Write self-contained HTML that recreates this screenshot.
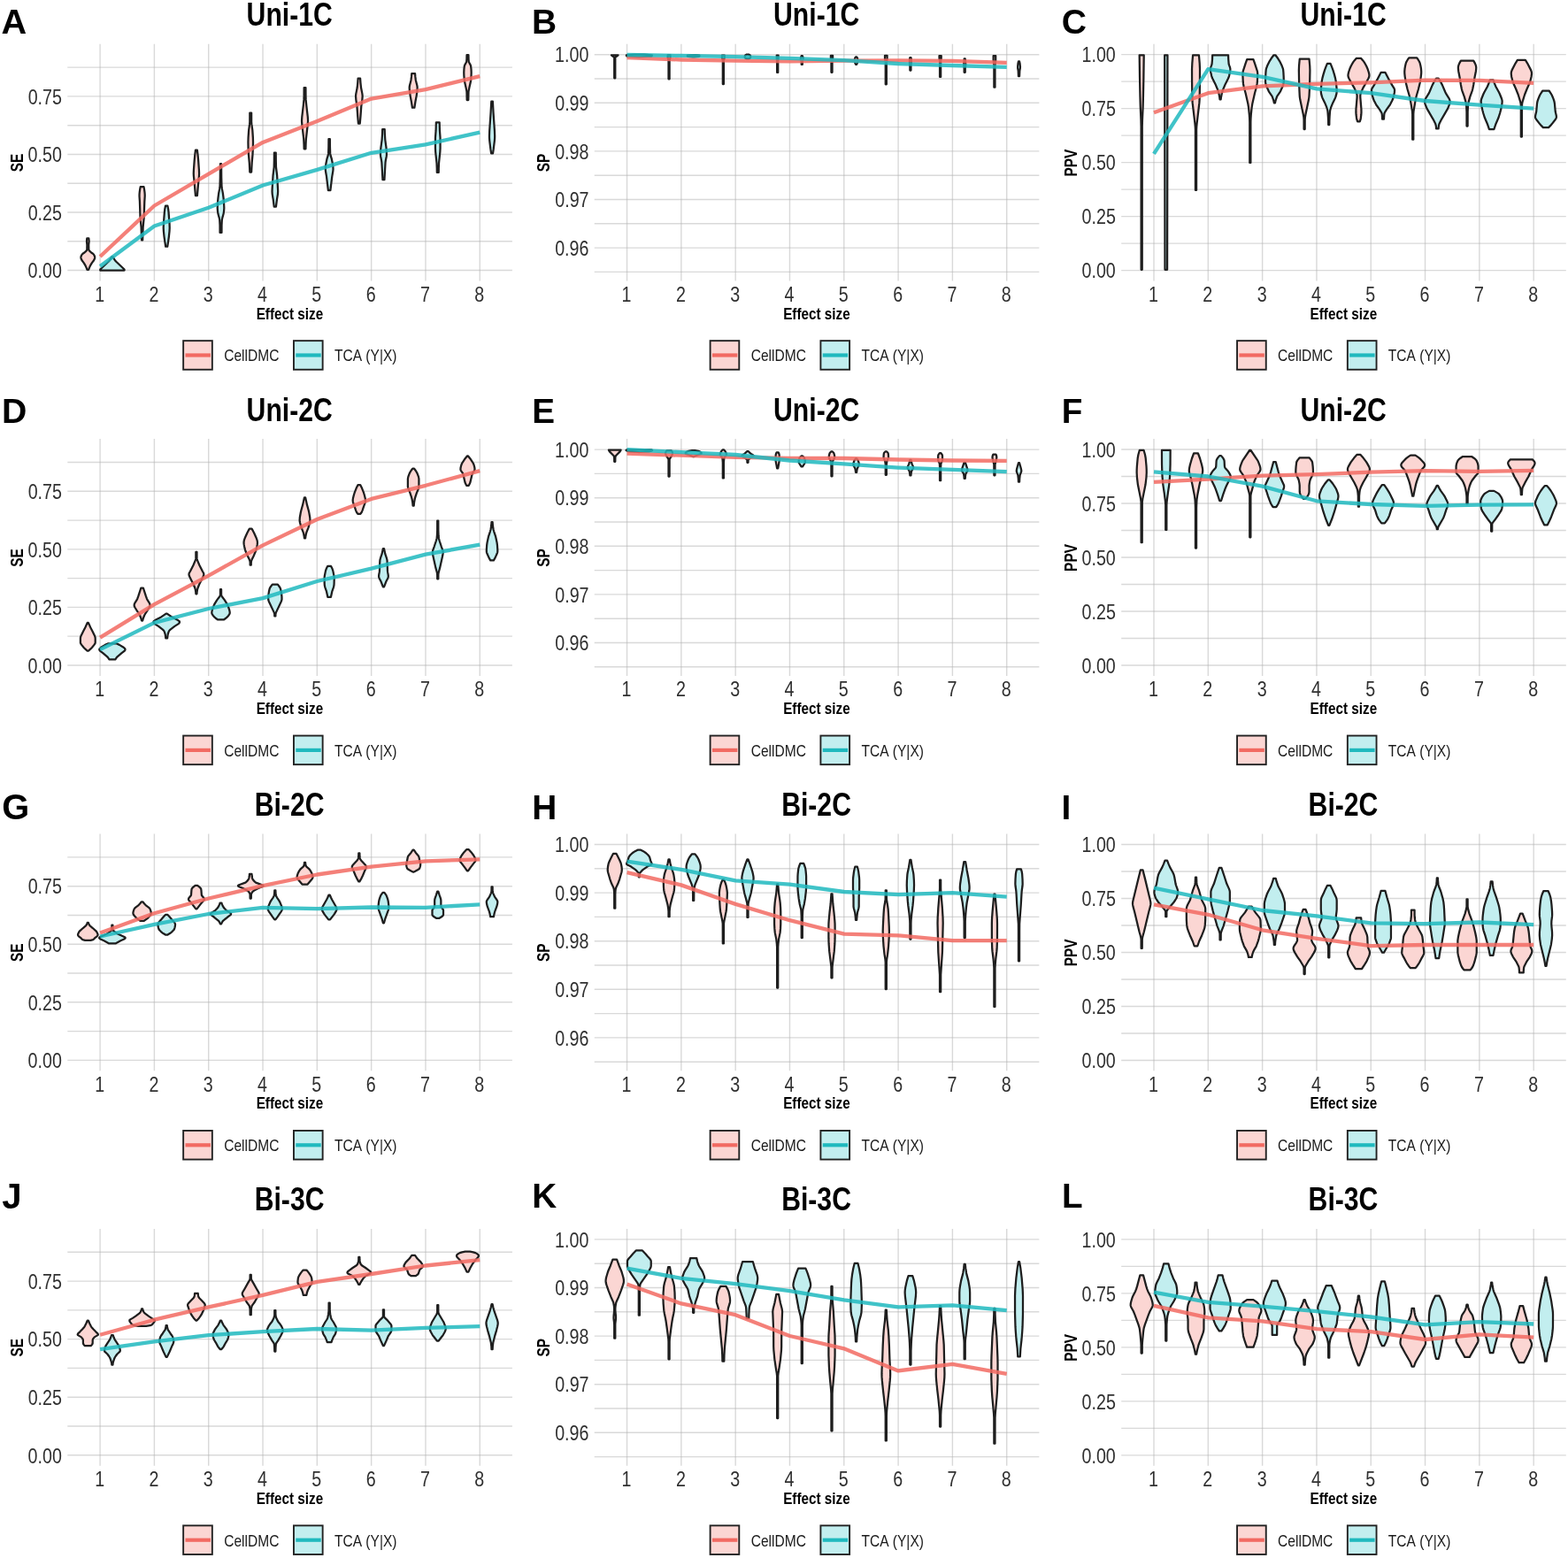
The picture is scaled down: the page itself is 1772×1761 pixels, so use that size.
<!DOCTYPE html><html><head><meta charset="utf-8"><title>Violin plots</title><style>html,body{margin:0;padding:0;background:#fff;overflow:hidden;}svg{display:block;}</style></head><body><svg width="1772" height="1761" viewBox="0 0 1772 1761" font-family="Liberation Sans, Arial, sans-serif" style="font-kerning:none"><rect width="100%" height="100%" fill="#fff"/><path d="M76.3 272.78H578.9M76.3 207.23H578.9M76.3 141.68H578.9M76.3 76.13H578.9M76.3 305.55H578.9M76.3 240H578.9M76.3 174.45H578.9M76.3 108.9H578.9" stroke="#B3B3B3" stroke-opacity="0.5" stroke-width="1.4" fill="none"/>
<path d="M113.1 49.7V317.5M174.41 49.7V317.5M235.72 49.7V317.5M297.03 49.7V317.5M358.34 49.7V317.5M419.65 49.7V317.5M480.96 49.7V317.5M542.27 49.7V317.5" stroke="#B3B3B3" stroke-opacity="0.5" stroke-width="1.4" fill="none"/>
<text transform="translate(31.61 314.3) scale(0.81 1)" font-size="24.27" fill="#303030">0.00</text>
<text transform="translate(31.66 248.75) scale(0.81 1)" font-size="24.27" fill="#303030">0.25</text>
<text transform="translate(31.61 183.2) scale(0.81 1)" font-size="24.27" fill="#303030">0.50</text>
<text transform="translate(31.66 117.65) scale(0.81 1)" font-size="24.27" fill="#303030">0.75</text>
<text transform="translate(107.13 340.9) scale(0.81 1)" font-size="24.27" fill="#303030">1</text>
<text transform="translate(168.44 340.9) scale(0.81 1)" font-size="24.27" fill="#303030">2</text>
<text transform="translate(229.75 340.9) scale(0.81 1)" font-size="24.27" fill="#303030">3</text>
<text transform="translate(291.06 340.9) scale(0.81 1)" font-size="24.27" fill="#303030">4</text>
<text transform="translate(352.37 340.9) scale(0.81 1)" font-size="24.27" fill="#303030">5</text>
<text transform="translate(413.68 340.9) scale(0.81 1)" font-size="24.27" fill="#303030">6</text>
<text transform="translate(474.99 340.9) scale(0.81 1)" font-size="24.27" fill="#303030">7</text>
<text transform="translate(536.3 340.9) scale(0.81 1)" font-size="24.27" fill="#303030">8</text>
<text transform="translate(289.68 360.5) scale(0.832 1)" font-size="18.38" font-weight="bold" fill="#000">Effect size</text>
<text transform="translate(25.91 194.25) rotate(-90) scale(0.785 1)" font-size="19.63" font-weight="bold" fill="#000">SE</text>
<text transform="translate(278.59 29.1) scale(0.83 1)" font-size="36.36" font-weight="bold" fill="#000">Uni-1C</text>
<rect x="207.15" y="385.15" width="32.7" height="32.6" fill="#FBD6D3" stroke="#222" stroke-width="1.9"/>
<path d="M209.5 401.5H237.9" stroke="#F26A62" stroke-width="4.2"/>
<text transform="translate(253.21 408.3) scale(0.866 1)" font-size="17.97" fill="#1A1A1A">CellDMC</text>
<rect x="331.95" y="385.15" width="32.7" height="32.6" fill="#C2EEEF" stroke="#222" stroke-width="1.9"/>
<path d="M334.3 401.5H362.7" stroke="#1FB9BE" stroke-width="4.2"/>
<text transform="translate(377.95 408.3) scale(0.866 1)" font-size="17.97" fill="#1A1A1A">TCA (Y|X)</text>
<text transform="translate(1.51 38.4) scale(1 1)" font-size="39.68" font-weight="bold" fill="#000">A</text>
<path d="M100.30 269.30 100.50 270.81 100.60 273.09 100.20 276.87 100.32 282.18 100.67 282.93 101.93 284.45 102.85 285.21 105.05 286.72 105.85 287.48 106.68 288.99 106.98 289.75 107.16 290.51 107.19 291.27 107.04 292.02 106.76 292.78 106.05 294.30 103.72 297.33 102.40 299.60 100.97 302.63 100.10 304.90 98.50 304.90 97.63 302.63 96.20 299.60 94.88 297.33 92.55 294.30 91.84 292.78 91.56 292.02 91.41 291.27 91.44 290.51 91.62 289.75 91.92 288.99 92.75 287.48 93.55 286.72 95.75 285.21 96.67 284.45 97.93 282.93 98.28 282.18 98.40 276.87 98.00 273.09 98.10 270.81 98.30 269.30ZM162.51 211.20 162.96 213.46 163.47 217.22 163.67 219.48 163.70 221.74 163.31 227.75 162.71 245.81 161.61 257.10 161.16 271.40 160.06 271.40 159.61 257.10 158.51 245.81 157.91 227.75 157.52 221.74 157.55 219.48 157.75 217.22 158.26 213.46 158.71 211.20ZM222.88 169.55 223.61 175.61 224.11 180.92 224.92 192.29 225.07 196.08 224.92 199.12 224.43 203.66 222.88 221.10 220.96 221.10 219.41 203.66 218.92 199.12 218.77 196.08 218.92 192.29 219.73 180.92 220.23 175.61 220.96 169.55ZM284.13 127.60 284.16 138.12 284.38 140.38 285.32 147.14 285.88 155.41 286.03 160.67 285.91 166.69 285.50 174.96 284.68 183.98 284.13 194.50 282.33 194.50 281.78 183.98 280.96 174.96 280.55 166.69 280.43 160.67 280.58 155.41 281.14 147.14 282.08 140.38 282.30 138.12 282.33 127.60ZM345.44 99.10 345.51 108.88 345.64 112.64 346.31 119.41 347.79 132.20 348.04 135.96 347.98 138.21 347.79 140.47 345.88 157.02 345.57 163.03 345.44 168.30 343.64 168.30 343.51 163.03 343.20 157.02 341.29 140.47 341.10 138.21 341.04 135.96 341.29 132.20 342.77 119.41 343.44 112.64 343.57 108.88 343.64 99.10ZM407.10 88.55 407.40 93.06 408.02 99.08 409.38 105.85 409.58 107.36 409.65 108.86 409.38 112.62 408.29 120.14 407.47 131.43 406.75 139.70 404.95 139.70 404.23 131.43 403.41 120.14 402.32 112.62 402.05 108.86 402.12 107.36 402.32 105.85 403.68 99.08 404.30 93.06 404.60 88.55ZM469.06 83.10 469.37 86.88 469.85 90.67 471.38 96.72 471.61 98.24 471.65 99.75 471.43 102.78 470.71 108.08 469.45 114.89 468.36 121.70 465.96 121.70 464.87 114.89 463.61 108.08 462.89 102.78 462.67 99.75 462.71 98.24 462.94 96.72 464.47 90.67 464.95 86.88 465.26 83.10ZM529.42 62.20 529.53 66.76 529.77 69.80 530.05 70.56 531.76 73.60 532.05 74.36 532.51 78.15 532.67 81.95 532.55 85.75 532.11 91.07 531.70 93.35 530.43 98.67 529.67 102.46 529.47 103.98 529.27 113.10 527.67 113.10 527.47 103.98 527.27 102.46 526.51 98.67 525.24 93.35 524.83 91.07 524.39 85.75 524.27 81.95 524.43 78.15 524.89 74.36 525.18 73.60 526.89 70.56 527.17 69.80 527.41 66.76 527.52 62.20Z" fill="#FBD6D3" stroke="#1E1E1E" stroke-width="2.25" stroke-linejoin="round"/>
<path d="M127.70 290.40 128.42 291.91 129.91 294.18 131.30 295.69 140.01 303.99 140.53 304.75 140.60 305.50 113.20 305.50 113.27 304.75 113.79 303.99 122.50 295.69 123.89 294.18 125.38 291.91 126.10 290.40ZM189.41 232.60 190.15 236.38 190.57 240.16 191.56 253.00 191.71 257.54 191.51 261.32 190.90 267.36 190.06 273.41 189.21 278.70 187.21 278.70 186.36 273.41 185.52 267.36 184.91 261.32 184.71 257.54 184.86 253.00 185.85 240.16 186.27 236.38 187.01 232.60ZM250.07 185.20 250.22 201.05 250.49 210.11 250.85 213.13 251.87 218.41 252.55 223.70 252.98 228.23 253.32 235.02 253.12 238.04 252.57 241.81 251.27 246.34 250.83 248.61 250.51 254.65 250.48 262.95 248.56 262.95 248.53 254.65 248.21 248.61 247.77 246.34 246.47 241.81 245.92 238.04 245.72 235.02 246.06 228.23 246.49 223.70 247.17 218.41 248.19 213.13 248.55 210.11 248.82 201.05 248.97 185.20ZM311.73 172.60 311.80 181.65 311.98 189.20 313.12 198.25 314.02 213.33 314.13 216.35 313.95 219.37 312.96 225.40 311.93 233.70 309.73 233.70 308.70 225.40 307.71 219.37 307.53 216.35 307.64 213.33 308.54 198.25 309.68 189.20 309.86 181.65 309.93 172.60ZM372.84 157.00 372.93 166.07 373.17 173.63 373.64 175.90 374.83 179.68 375.75 184.21 376.36 187.99 376.54 191.01 376.35 193.28 375.30 199.33 373.39 215.20 370.89 215.20 368.98 199.33 367.93 193.28 367.74 191.01 367.92 187.99 368.53 184.21 369.45 179.68 370.64 175.90 371.11 173.63 371.35 166.07 371.44 157.00ZM434.70 146.10 434.87 151.36 435.30 158.12 436.52 167.14 436.86 171.64 436.95 174.65 436.74 176.90 435.83 181.41 435.53 183.67 434.45 203.20 432.45 203.20 431.37 183.67 431.07 181.41 430.16 176.90 429.95 174.65 430.04 171.64 430.38 167.14 431.60 158.12 432.03 151.36 432.20 146.10ZM496.66 138.40 496.91 147.44 497.54 155.73 497.56 167.78 497.35 171.55 496.01 184.35 495.77 190.38 495.71 194.90 493.81 194.90 493.75 190.38 493.51 184.35 492.17 171.55 491.96 167.78 491.98 155.73 492.61 147.44 492.86 138.40ZM556.87 114.70 557.52 126.74 558.95 147.81 559.17 153.83 559.13 156.09 558.88 159.10 557.79 168.13 557.02 173.40 555.12 173.40 554.35 168.13 553.26 159.10 553.01 156.09 552.97 153.83 553.19 147.81 554.62 126.74 555.27 114.70Z" fill="#C2EEEF" stroke="#1E1E1E" stroke-width="2.25" stroke-linejoin="round"/>
<path d="M113.10 290.00 174.41 232.50 235.72 196.70 297.03 160.90 358.34 137.00 419.65 111.60 480.96 101.20 542.27 86.10" fill="none" stroke="#F26A62" stroke-opacity="0.85" stroke-width="4.3" stroke-linejoin="round"/>
<path d="M113.10 300.90 174.41 255.50 235.72 234.80 297.03 209.50 358.34 191.90 419.65 172.80 480.96 163.30 542.27 149.70" fill="none" stroke="#1FB9BE" stroke-opacity="0.85" stroke-width="4.3" stroke-linejoin="round"/>
<path d="M671.75 307.4H1174.35M671.75 252.8H1174.35M671.75 198.2H1174.35M671.75 143.6H1174.35M671.75 89H1174.35M671.75 280.1H1174.35M671.75 225.5H1174.35M671.75 170.9H1174.35M671.75 116.3H1174.35M671.75 61.7H1174.35" stroke="#B3B3B3" stroke-opacity="0.5" stroke-width="1.4" fill="none"/>
<path d="M708.55 49.7V317.5M769.86 49.7V317.5M831.17 49.7V317.5M892.48 49.7V317.5M953.79 49.7V317.5M1015.1 49.7V317.5M1076.41 49.7V317.5M1137.72 49.7V317.5" stroke="#B3B3B3" stroke-opacity="0.5" stroke-width="1.4" fill="none"/>
<text transform="translate(627.15 288.85) scale(0.81 1)" font-size="24.27" fill="#303030">0.96</text>
<text transform="translate(627.28 234.25) scale(0.81 1)" font-size="24.27" fill="#303030">0.97</text>
<text transform="translate(627.14 179.65) scale(0.81 1)" font-size="24.27" fill="#303030">0.98</text>
<text transform="translate(627.22 125.05) scale(0.81 1)" font-size="24.27" fill="#303030">0.99</text>
<text transform="translate(627.06 70.45) scale(0.81 1)" font-size="24.27" fill="#303030">1.00</text>
<text transform="translate(702.58 340.9) scale(0.81 1)" font-size="24.27" fill="#303030">1</text>
<text transform="translate(763.89 340.9) scale(0.81 1)" font-size="24.27" fill="#303030">2</text>
<text transform="translate(825.2 340.9) scale(0.81 1)" font-size="24.27" fill="#303030">3</text>
<text transform="translate(886.51 340.9) scale(0.81 1)" font-size="24.27" fill="#303030">4</text>
<text transform="translate(947.82 340.9) scale(0.81 1)" font-size="24.27" fill="#303030">5</text>
<text transform="translate(1009.13 340.9) scale(0.81 1)" font-size="24.27" fill="#303030">6</text>
<text transform="translate(1070.44 340.9) scale(0.81 1)" font-size="24.27" fill="#303030">7</text>
<text transform="translate(1131.75 340.9) scale(0.81 1)" font-size="24.27" fill="#303030">8</text>
<text transform="translate(885.13 360.5) scale(0.832 1)" font-size="18.38" font-weight="bold" fill="#000">Effect size</text>
<text transform="translate(621.36 194.29) rotate(-90) scale(0.785 1)" font-size="19.63" font-weight="bold" fill="#000">SP</text>
<text transform="translate(874.04 29.1) scale(0.83 1)" font-size="36.36" font-weight="bold" fill="#000">Uni-1C</text>
<rect x="802.6" y="385.15" width="32.7" height="32.6" fill="#FBD6D3" stroke="#222" stroke-width="1.9"/>
<path d="M804.95 401.5H833.35" stroke="#F26A62" stroke-width="4.2"/>
<text transform="translate(848.66 408.3) scale(0.866 1)" font-size="17.97" fill="#1A1A1A">CellDMC</text>
<rect x="927.4" y="385.15" width="32.7" height="32.6" fill="#C2EEEF" stroke="#222" stroke-width="1.9"/>
<path d="M929.75 401.5H958.15" stroke="#1FB9BE" stroke-width="4.2"/>
<text transform="translate(973.4 408.3) scale(0.866 1)" font-size="17.97" fill="#1A1A1A">TCA (Y|X)</text>
<text transform="translate(600.89 38.1) scale(1 1)" font-size="38.95" font-weight="bold" fill="#000">B</text>
<path d="M698.56 62.30 697.76 63.07 695.55 64.60 695.30 65.37 695.30 88.37 694.20 88.37 694.20 65.37 693.95 64.60 691.74 63.07 690.94 62.30ZM757.46 62.02 757.46 65.06 757.37 65.82 756.67 68.09 756.61 68.85 756.61 89.37 755.51 89.37 755.51 68.85 755.45 68.09 754.75 65.82 754.66 65.06 754.66 62.02ZM818.77 62.59 818.72 65.61 818.02 67.88 817.92 68.64 817.92 95.11 816.82 95.11 816.82 68.64 816.72 67.88 816.02 65.61 815.97 62.59ZM879.60 62.59 879.57 66.45 879.23 70.32 879.23 81.92 878.13 81.92 878.13 70.32 877.79 66.45 877.76 62.59ZM941.11 62.81 941.11 65.84 940.57 68.87 940.54 69.63 940.54 81.75 939.44 81.75 939.44 69.63 939.41 68.87 938.87 65.84 938.87 62.81ZM1002.59 62.81 1002.58 66.58 1002.50 67.34 1001.99 69.60 1001.85 71.11 1001.85 95.25 1000.75 95.25 1000.75 71.11 1000.61 69.60 1000.10 67.34 1000.02 66.58 1000.01 62.81ZM1063.73 63.10 1063.70 66.17 1063.16 69.24 1063.16 86.89 1062.06 86.89 1062.06 69.24 1061.52 66.17 1061.49 63.10ZM1125.21 63.10 1125.20 68.39 1124.55 73.69 1124.47 75.20 1124.47 98.63 1123.37 98.63 1123.37 75.20 1123.29 73.69 1122.64 68.39 1122.63 63.10Z" fill="#FBD6D3" stroke="#1E1E1E" stroke-width="2.25" stroke-linejoin="round"/>
<path d="M727.92 61.59 736.75 62.29 736.75 63.00 736.02 63.71 722.90 64.42 721.80 64.42 708.68 63.71 707.95 63.00 707.95 62.29 716.78 61.59ZM786.02 62.02 790.35 62.62 790.51 63.22 790.11 63.83 784.21 64.43 783.11 64.43 777.21 63.83 776.81 63.22 776.97 62.62 781.30 62.02ZM846.05 61.59 847.67 62.39 848.13 63.20 848.13 64.82 847.60 65.63 845.73 66.44 844.21 66.44 842.34 65.63 841.81 64.82 841.81 63.20 842.27 62.39 843.89 61.59ZM906.83 63.02 907.39 64.54 907.66 66.06 907.66 66.81 906.84 69.85 906.83 72.89 905.73 72.89 905.72 69.85 904.90 66.81 904.90 66.06 905.17 64.54 905.73 63.02ZM968.14 64.28 969.06 65.85 969.23 66.64 969.36 68.22 969.22 69.80 968.77 71.37 968.14 72.95 967.04 72.95 966.41 71.37 965.96 69.80 965.82 68.22 965.95 66.64 966.12 65.85 967.04 64.28ZM1029.45 65.01 1029.75 66.54 1029.86 68.07 1029.85 71.13 1029.45 74.96 1029.45 79.55 1028.35 79.55 1028.35 74.96 1027.95 71.13 1027.94 68.07 1028.05 66.54 1028.35 65.01ZM1090.76 66.48 1091.32 72.59 1091.24 74.12 1090.77 77.17 1090.76 81.75 1089.66 81.75 1089.65 77.17 1089.18 74.12 1089.10 72.59 1089.66 66.48ZM1152.07 69.41 1152.56 71.70 1152.96 75.50 1152.89 77.02 1152.34 80.07 1152.07 86.16 1150.97 86.16 1150.70 80.07 1150.15 77.02 1150.08 75.50 1150.48 71.70 1150.97 69.41Z" fill="#C2EEEF" stroke="#1E1E1E" stroke-width="2.25" stroke-linejoin="round"/>
<path d="M708.55 65.20 769.86 67.50 831.17 68.60 892.48 69.30 953.79 68.70 1015.10 68.40 1076.41 68.90 1137.72 70.90" fill="none" stroke="#F26A62" stroke-opacity="0.85" stroke-width="4.3" stroke-linejoin="round"/>
<path d="M708.55 62.00 769.86 62.90 831.17 64.10 892.48 65.80 953.79 68.20 1015.10 72.00 1076.41 74.00 1137.72 75.90" fill="none" stroke="#1FB9BE" stroke-opacity="0.85" stroke-width="4.3" stroke-linejoin="round"/>
<path d="M1267.2 275.15H1769.8M1267.2 214.15H1769.8M1267.2 153.15H1769.8M1267.2 92.15H1769.8M1267.2 305.65H1769.8M1267.2 244.65H1769.8M1267.2 183.65H1769.8M1267.2 122.65H1769.8M1267.2 61.65H1769.8" stroke="#B3B3B3" stroke-opacity="0.5" stroke-width="1.4" fill="none"/>
<path d="M1304 49.7V317.5M1365.31 49.7V317.5M1426.62 49.7V317.5M1487.93 49.7V317.5M1549.24 49.7V317.5M1610.55 49.7V317.5M1671.86 49.7V317.5M1733.17 49.7V317.5" stroke="#B3B3B3" stroke-opacity="0.5" stroke-width="1.4" fill="none"/>
<text transform="translate(1222.51 314.4) scale(0.81 1)" font-size="24.27" fill="#303030">0.00</text>
<text transform="translate(1222.56 253.4) scale(0.81 1)" font-size="24.27" fill="#303030">0.25</text>
<text transform="translate(1222.51 192.4) scale(0.81 1)" font-size="24.27" fill="#303030">0.50</text>
<text transform="translate(1222.56 131.4) scale(0.81 1)" font-size="24.27" fill="#303030">0.75</text>
<text transform="translate(1222.51 70.4) scale(0.81 1)" font-size="24.27" fill="#303030">1.00</text>
<text transform="translate(1298.03 340.9) scale(0.81 1)" font-size="24.27" fill="#303030">1</text>
<text transform="translate(1359.34 340.9) scale(0.81 1)" font-size="24.27" fill="#303030">2</text>
<text transform="translate(1420.65 340.9) scale(0.81 1)" font-size="24.27" fill="#303030">3</text>
<text transform="translate(1481.96 340.9) scale(0.81 1)" font-size="24.27" fill="#303030">4</text>
<text transform="translate(1543.27 340.9) scale(0.81 1)" font-size="24.27" fill="#303030">5</text>
<text transform="translate(1604.58 340.9) scale(0.81 1)" font-size="24.27" fill="#303030">6</text>
<text transform="translate(1665.89 340.9) scale(0.81 1)" font-size="24.27" fill="#303030">7</text>
<text transform="translate(1727.2 340.9) scale(0.81 1)" font-size="24.27" fill="#303030">8</text>
<text transform="translate(1480.58 360.5) scale(0.832 1)" font-size="18.38" font-weight="bold" fill="#000">Effect size</text>
<text transform="translate(1216.61 199.48) rotate(-90) scale(0.785 1)" font-size="19.63" font-weight="bold" fill="#000">PPV</text>
<text transform="translate(1469.49 29.1) scale(0.83 1)" font-size="36.36" font-weight="bold" fill="#000">Uni-1C</text>
<rect x="1398.05" y="385.15" width="32.7" height="32.6" fill="#FBD6D3" stroke="#222" stroke-width="1.9"/>
<path d="M1400.4 401.5H1428.8" stroke="#F26A62" stroke-width="4.2"/>
<text transform="translate(1444.11 408.3) scale(0.866 1)" font-size="17.97" fill="#1A1A1A">CellDMC</text>
<rect x="1522.85" y="385.15" width="32.7" height="32.6" fill="#C2EEEF" stroke="#222" stroke-width="1.9"/>
<path d="M1525.2 401.5H1553.6" stroke="#1FB9BE" stroke-width="4.2"/>
<text transform="translate(1568.85 408.3) scale(0.866 1)" font-size="17.97" fill="#1A1A1A">TCA (Y|X)</text>
<text transform="translate(1199.7 38.02) scale(1 1)" font-size="39.12" font-weight="bold" fill="#000">C</text>
<path d="M1292.73 62.27 1292.38 87.80 1291.93 109.58 1291.62 120.85 1290.95 135.87 1290.78 142.62 1290.75 304.83 1289.65 304.83 1289.62 142.62 1289.45 135.87 1288.78 120.85 1288.47 109.58 1288.02 87.80 1287.67 62.27ZM1354.94 62.27 1355.68 71.30 1355.99 78.07 1355.95 91.61 1355.75 106.65 1355.61 112.67 1355.35 116.43 1352.60 139.74 1352.25 143.51 1352.09 146.51 1352.06 214.96 1350.96 214.96 1350.93 146.51 1350.77 143.51 1350.42 139.74 1347.67 116.43 1347.41 112.67 1347.27 106.65 1347.07 91.61 1347.03 78.07 1347.34 71.30 1348.08 62.27ZM1416.42 67.04 1418.01 71.57 1420.94 80.62 1421.23 82.88 1421.19 85.90 1420.86 92.69 1420.60 94.95 1419.98 97.97 1417.97 105.51 1415.25 117.57 1414.53 122.10 1413.73 130.40 1413.49 134.17 1413.37 137.94 1413.37 183.94 1412.27 183.94 1412.27 137.94 1412.15 134.17 1411.91 130.40 1411.11 122.10 1410.39 117.57 1407.67 105.51 1405.66 97.97 1405.04 94.95 1404.78 92.69 1404.45 85.90 1404.41 82.88 1404.70 80.62 1407.63 71.57 1409.22 67.04ZM1479.52 66.73 1480.21 74.28 1480.41 79.58 1480.22 90.16 1479.86 101.49 1479.57 107.54 1479.39 109.81 1478.93 112.83 1475.42 129.46 1474.91 132.48 1474.70 135.51 1474.68 146.09 1473.58 146.09 1473.56 135.51 1473.35 132.48 1472.84 129.46 1469.33 112.83 1468.87 109.81 1468.69 107.54 1468.40 101.49 1468.04 90.16 1467.85 79.58 1468.05 74.28 1468.74 66.73ZM1538.15 65.93 1540.07 68.19 1541.75 70.45 1543.12 72.71 1544.31 74.97 1545.30 77.23 1546.82 81.74 1547.32 84.00 1547.41 85.51 1547.13 87.02 1546.52 88.52 1543.70 93.80 1540.58 99.07 1538.21 104.34 1537.47 106.60 1537.27 108.11 1537.32 110.37 1538.41 123.17 1538.49 126.94 1538.29 129.95 1537.81 133.72 1537.49 135.22 1536.73 137.48 1534.15 137.48 1533.39 135.22 1533.07 133.72 1532.59 129.95 1532.39 126.94 1532.47 123.17 1533.56 110.37 1533.61 108.11 1533.41 106.60 1532.67 104.34 1530.30 99.07 1527.18 93.80 1524.36 88.52 1523.75 87.02 1523.47 85.51 1523.56 84.00 1524.06 81.74 1525.58 77.23 1526.57 74.97 1527.76 72.71 1529.13 70.45 1530.81 68.19 1532.73 65.93ZM1601.24 65.45 1602.83 67.72 1603.75 69.23 1604.47 70.74 1604.72 71.50 1605.43 74.52 1605.96 77.55 1606.22 80.57 1606.19 82.84 1605.81 86.62 1604.71 93.42 1602.88 100.98 1600.91 107.78 1600.34 110.05 1599.14 116.10 1597.51 125.93 1597.30 128.95 1597.30 157.68 1596.20 157.68 1596.20 128.95 1595.99 125.93 1594.36 116.10 1593.16 110.05 1592.59 107.78 1590.62 100.98 1588.79 93.42 1587.69 86.62 1587.31 82.84 1587.28 80.57 1587.54 77.55 1588.07 74.52 1588.78 71.50 1589.03 70.74 1589.75 69.23 1590.67 67.72 1592.26 65.45ZM1665.23 68.63 1666.91 71.65 1667.82 73.91 1668.17 75.42 1668.24 76.18 1668.16 78.44 1667.86 80.70 1666.51 87.49 1665.23 95.79 1664.36 100.32 1663.73 102.58 1661.30 109.37 1659.84 114.66 1659.20 117.67 1658.91 120.69 1658.64 126.73 1658.61 142.57 1657.51 142.57 1657.48 126.73 1657.21 120.69 1656.92 117.67 1656.28 114.66 1654.82 109.37 1652.39 102.58 1651.76 100.32 1650.89 95.79 1649.61 87.49 1648.26 80.70 1647.96 78.44 1647.88 76.18 1647.95 75.42 1648.30 73.91 1649.21 71.65 1650.89 68.63ZM1723.86 67.84 1726.13 71.60 1730.06 79.14 1730.82 81.40 1730.94 82.15 1730.97 83.66 1730.57 86.68 1729.26 91.95 1728.42 94.21 1725.72 100.24 1723.04 107.02 1720.94 113.80 1720.36 116.07 1720.09 117.57 1719.94 119.83 1719.92 154.50 1718.82 154.50 1718.80 119.83 1718.65 117.57 1718.38 116.07 1717.80 113.80 1715.70 107.02 1713.02 100.24 1710.32 94.21 1709.48 91.95 1708.17 86.68 1707.77 83.66 1707.80 82.15 1707.92 81.40 1708.68 79.14 1712.61 71.60 1714.88 67.84Z" fill="#FBD6D3" stroke="#1E1E1E" stroke-width="2.25" stroke-linejoin="round"/>
<path d="M1319.44 62.27 1319.09 304.83 1316.51 304.83 1316.16 62.27ZM1388.06 62.27 1388.20 66.83 1388.64 72.14 1389.05 73.66 1389.92 75.93 1390.32 77.45 1390.35 78.97 1390.09 81.25 1389.03 85.80 1388.28 88.08 1387.58 89.60 1384.83 94.91 1382.90 99.46 1381.73 102.50 1381.04 104.78 1380.52 107.05 1379.95 110.09 1379.66 112.37 1378.56 112.37 1378.27 110.09 1377.70 107.05 1377.18 104.78 1376.49 102.50 1375.32 99.46 1373.39 94.91 1370.64 89.60 1369.94 88.08 1369.19 85.80 1368.13 81.25 1367.87 78.97 1367.90 77.45 1368.30 75.93 1369.17 73.66 1369.58 72.14 1370.02 66.83 1370.16 62.27ZM1441.35 62.27 1444.19 66.03 1446.08 69.03 1448.66 74.29 1449.79 77.29 1450.14 78.79 1450.41 81.80 1450.69 87.06 1450.79 92.31 1450.56 94.56 1450.14 96.07 1449.59 97.57 1447.20 102.83 1446.29 104.33 1443.74 108.08 1442.94 109.58 1441.64 113.34 1441.00 116.34 1439.84 116.34 1439.20 113.34 1437.90 109.58 1437.10 108.08 1434.55 104.33 1433.64 102.83 1431.25 97.57 1430.70 96.07 1430.28 94.56 1430.05 92.31 1430.15 87.06 1430.43 81.80 1430.70 78.79 1431.05 77.29 1432.18 74.29 1434.76 69.03 1436.65 66.03 1439.49 62.27ZM1503.55 71.82 1505.11 75.58 1506.48 79.34 1508.06 84.60 1509.04 88.36 1509.63 91.37 1510.18 95.88 1510.53 99.64 1510.68 103.40 1510.46 105.65 1509.47 109.41 1508.85 110.92 1506.29 116.18 1504.14 121.45 1503.24 124.45 1503.01 125.96 1502.56 131.97 1502.35 136.49 1502.28 141.00 1501.18 141.00 1501.11 136.49 1500.90 131.97 1500.45 125.96 1500.22 124.45 1499.32 121.45 1497.17 116.18 1494.61 110.92 1493.99 109.41 1493.00 105.65 1492.78 103.40 1492.93 99.64 1493.28 95.88 1493.83 91.37 1494.42 88.36 1495.40 84.60 1496.98 79.34 1498.35 75.58 1499.91 71.82ZM1565.40 81.83 1569.34 89.37 1573.16 96.16 1575.51 99.93 1576.03 101.44 1576.08 102.19 1575.90 104.45 1575.29 107.47 1574.28 111.24 1573.38 113.50 1571.04 118.03 1570.06 119.54 1567.26 123.31 1565.41 126.32 1564.65 127.83 1564.41 128.59 1564.22 130.10 1563.97 134.62 1562.11 134.62 1561.86 130.10 1561.67 128.59 1561.43 127.83 1560.67 126.32 1558.82 123.31 1556.02 119.54 1555.04 118.03 1552.70 113.50 1551.80 111.24 1550.79 107.47 1550.18 104.45 1550.00 102.19 1550.05 101.44 1550.57 99.93 1552.92 96.16 1556.74 89.37 1560.68 81.83ZM1625.64 88.51 1627.94 92.30 1629.95 96.10 1633.16 103.69 1634.22 105.97 1637.13 110.52 1637.95 112.04 1638.49 113.56 1638.63 115.07 1638.42 116.59 1637.98 118.11 1636.18 122.66 1629.08 134.81 1626.47 140.12 1626.02 141.64 1625.71 143.92 1625.64 145.43 1623.06 145.43 1622.99 143.92 1622.68 141.64 1622.23 140.12 1619.62 134.81 1612.52 122.66 1610.72 118.11 1610.28 116.59 1610.07 115.07 1610.21 113.56 1610.75 112.04 1611.57 110.52 1614.48 105.97 1615.54 103.69 1618.75 96.10 1620.76 92.30 1623.06 88.51ZM1687.48 90.42 1688.86 94.18 1690.47 97.94 1693.80 103.96 1694.90 106.21 1697.02 111.48 1697.44 112.98 1697.63 114.48 1697.51 116.74 1697.16 119.00 1696.05 124.26 1695.05 128.02 1693.35 133.29 1690.17 140.81 1688.37 146.07 1682.95 146.07 1681.15 140.81 1677.97 133.29 1676.27 128.02 1675.27 124.26 1674.16 119.00 1673.81 116.74 1673.69 114.48 1673.88 112.98 1674.30 111.48 1676.42 106.21 1677.52 103.96 1680.85 97.94 1682.46 94.18 1683.84 90.42ZM1750.57 102.50 1752.62 105.53 1753.87 107.81 1755.48 111.59 1756.25 113.87 1756.63 115.38 1756.98 117.65 1757.71 125.98 1758.77 130.53 1758.94 132.04 1758.89 132.80 1758.67 133.56 1757.82 135.07 1753.62 140.37 1752.27 141.89 1750.04 144.16 1743.90 144.16 1741.67 141.89 1740.32 140.37 1736.12 135.07 1735.27 133.56 1735.05 132.80 1735.00 132.04 1735.17 130.53 1736.23 125.98 1736.96 117.65 1737.31 115.38 1737.69 113.87 1738.46 111.59 1740.07 107.81 1741.32 105.53 1743.37 102.50Z" fill="#C2EEEF" stroke="#1E1E1E" stroke-width="2.25" stroke-linejoin="round"/>
<path d="M1304.00 127.20 1365.31 105.20 1426.62 97.30 1487.93 94.90 1549.24 93.30 1610.55 90.60 1671.86 90.90 1733.17 93.80" fill="none" stroke="#F26A62" stroke-opacity="0.85" stroke-width="4.3" stroke-linejoin="round"/>
<path d="M1304.00 173.90 1365.31 78.20 1426.62 86.90 1487.93 100.40 1549.24 105.20 1610.55 114.00 1671.86 118.70 1733.17 122.70" fill="none" stroke="#1FB9BE" stroke-opacity="0.85" stroke-width="4.3" stroke-linejoin="round"/>
<path d="M76.3 719.17H578.9M76.3 653.62H578.9M76.3 588.08H578.9M76.3 522.52H578.9M76.3 751.95H578.9M76.3 686.4H578.9M76.3 620.85H578.9M76.3 555.3H578.9" stroke="#B3B3B3" stroke-opacity="0.5" stroke-width="1.4" fill="none"/>
<path d="M113.1 496.1V763.9M174.41 496.1V763.9M235.72 496.1V763.9M297.03 496.1V763.9M358.34 496.1V763.9M419.65 496.1V763.9M480.96 496.1V763.9M542.27 496.1V763.9" stroke="#B3B3B3" stroke-opacity="0.5" stroke-width="1.4" fill="none"/>
<text transform="translate(31.61 760.7) scale(0.81 1)" font-size="24.27" fill="#303030">0.00</text>
<text transform="translate(31.66 695.15) scale(0.81 1)" font-size="24.27" fill="#303030">0.25</text>
<text transform="translate(31.61 629.6) scale(0.81 1)" font-size="24.27" fill="#303030">0.50</text>
<text transform="translate(31.66 564.05) scale(0.81 1)" font-size="24.27" fill="#303030">0.75</text>
<text transform="translate(107.13 787.3) scale(0.81 1)" font-size="24.27" fill="#303030">1</text>
<text transform="translate(168.44 787.3) scale(0.81 1)" font-size="24.27" fill="#303030">2</text>
<text transform="translate(229.75 787.3) scale(0.81 1)" font-size="24.27" fill="#303030">3</text>
<text transform="translate(291.06 787.3) scale(0.81 1)" font-size="24.27" fill="#303030">4</text>
<text transform="translate(352.37 787.3) scale(0.81 1)" font-size="24.27" fill="#303030">5</text>
<text transform="translate(413.68 787.3) scale(0.81 1)" font-size="24.27" fill="#303030">6</text>
<text transform="translate(474.99 787.3) scale(0.81 1)" font-size="24.27" fill="#303030">7</text>
<text transform="translate(536.3 787.3) scale(0.81 1)" font-size="24.27" fill="#303030">8</text>
<text transform="translate(289.68 806.9) scale(0.832 1)" font-size="18.38" font-weight="bold" fill="#000">Effect size</text>
<text transform="translate(25.91 640.65) rotate(-90) scale(0.785 1)" font-size="19.63" font-weight="bold" fill="#000">SE</text>
<text transform="translate(278.59 475.5) scale(0.83 1)" font-size="36.36" font-weight="bold" fill="#000">Uni-2C</text>
<rect x="207.15" y="831.55" width="32.7" height="32.6" fill="#FBD6D3" stroke="#222" stroke-width="1.9"/>
<path d="M209.5 847.9H237.9" stroke="#F26A62" stroke-width="4.2"/>
<text transform="translate(253.21 854.7) scale(0.866 1)" font-size="17.97" fill="#1A1A1A">CellDMC</text>
<rect x="331.95" y="831.55" width="32.7" height="32.6" fill="#C2EEEF" stroke="#222" stroke-width="1.9"/>
<path d="M334.3 847.9H362.7" stroke="#1FB9BE" stroke-width="4.2"/>
<text transform="translate(377.95 854.7) scale(0.866 1)" font-size="17.97" fill="#1A1A1A">TCA (Y|X)</text>
<text transform="translate(2.07 478.1) scale(1 1)" font-size="39.24" font-weight="bold" fill="#000">D</text>
<path d="M99.88 703.91 102.27 709.22 104.62 713.76 107.19 719.06 107.64 720.57 107.71 722.09 107.71 725.87 107.67 726.63 107.41 727.39 106.40 728.90 103.87 731.93 102.41 733.45 99.88 735.72 98.72 735.72 96.19 733.45 94.73 731.93 92.20 728.90 91.19 727.39 90.93 726.63 90.89 725.87 90.89 722.09 90.96 720.57 91.41 719.06 93.98 713.76 96.33 709.22 98.72 703.91ZM161.90 664.63 164.84 673.66 165.92 676.67 166.66 678.18 169.00 681.94 169.51 683.45 169.55 684.20 169.43 684.96 168.79 686.46 166.05 690.98 164.03 693.99 163.18 695.50 161.98 698.51 161.16 701.52 160.06 701.52 159.24 698.51 158.04 695.50 157.19 693.99 155.17 690.98 152.43 686.46 151.79 684.96 151.67 684.20 151.71 683.45 152.22 681.94 154.56 678.18 155.30 676.67 156.38 673.66 159.32 664.63ZM222.47 623.91 222.47 630.68 222.51 631.43 222.87 632.93 225.45 638.95 228.90 645.72 229.77 647.23 230.12 647.98 230.31 648.73 230.31 649.48 230.17 650.24 229.60 651.74 227.78 655.50 225.41 660.01 223.58 664.53 222.94 666.78 222.62 669.04 222.47 671.30 221.37 671.30 221.22 669.04 220.90 666.78 220.26 664.53 218.43 660.01 216.06 655.50 214.24 651.74 213.67 650.24 213.53 649.48 213.53 648.73 213.72 647.98 214.07 647.23 214.94 645.72 218.39 638.95 220.97 632.93 221.33 631.43 221.37 630.68 221.37 623.91ZM284.52 597.66 285.85 599.94 287.05 602.22 289.76 608.30 290.32 609.82 290.73 611.34 290.92 612.86 290.93 613.62 290.81 615.14 290.42 617.42 289.50 621.22 289.04 622.74 286.12 629.57 284.61 632.61 284.03 634.13 283.80 635.65 283.78 638.69 282.68 638.69 282.66 635.65 282.43 634.13 281.85 632.61 280.34 629.57 277.42 622.74 276.96 621.22 276.04 617.42 275.65 615.14 275.53 613.62 275.54 612.86 275.73 611.34 276.14 609.82 276.70 608.30 279.41 602.22 280.61 599.94 281.94 597.66ZM345.11 562.34 346.99 570.66 348.68 576.70 349.22 578.97 350.27 585.02 350.46 588.04 350.32 589.55 350.02 591.06 348.49 596.36 346.42 601.65 345.95 603.16 345.36 606.18 345.09 608.45 343.99 608.45 343.72 606.18 343.13 603.16 342.66 601.65 340.59 596.36 339.06 591.06 338.76 589.55 338.62 588.04 338.81 585.02 339.86 578.97 340.40 576.70 342.09 570.66 343.97 562.34ZM407.14 548.03 409.05 551.85 411.11 557.21 411.81 559.51 412.75 563.33 412.99 564.87 413.01 565.63 412.85 567.16 412.46 568.69 410.76 573.28 409.51 577.11 408.46 579.41 407.94 580.17 407.14 580.94 404.56 580.94 403.76 580.17 403.24 579.41 402.19 577.11 400.94 573.28 399.24 568.69 398.85 567.16 398.69 565.63 398.71 564.87 398.95 563.33 399.89 559.51 400.59 557.21 402.65 551.85 404.56 548.03ZM468.09 529.74 469.82 532.02 471.20 534.30 472.16 536.58 472.97 538.86 473.42 541.14 473.43 549.51 473.40 550.27 473.08 551.79 472.53 553.31 470.91 557.11 469.42 561.67 468.77 563.95 468.09 567.75 467.71 571.55 466.61 571.55 466.23 567.75 465.55 563.95 464.90 561.67 463.41 557.11 461.79 553.31 461.24 551.79 460.92 550.27 460.89 549.51 460.90 541.14 461.35 538.86 462.16 536.58 463.12 534.30 464.50 532.02 466.23 529.74ZM529.04 515.43 531.43 518.46 533.96 522.26 534.83 523.77 535.49 525.29 536.11 527.57 536.41 529.08 536.52 530.60 536.35 531.36 535.96 532.12 534.32 534.40 533.91 535.15 533.22 537.43 531.48 545.02 530.90 546.54 529.76 548.81 527.18 548.81 526.04 546.54 525.46 545.02 523.72 537.43 523.03 535.15 522.62 534.40 520.98 532.12 520.59 531.36 520.42 530.60 520.53 529.08 520.83 527.57 521.45 525.29 522.11 523.77 522.98 522.26 525.51 518.46 527.90 515.43Z" fill="#FBD6D3" stroke="#1E1E1E" stroke-width="2.25" stroke-linejoin="round"/>
<path d="M131.39 727.30 134.95 728.86 138.85 731.20 139.97 731.98 140.86 732.76 141.41 733.54 141.53 734.33 141.20 735.11 140.51 735.89 137.52 738.23 132.85 742.14 132.03 742.92 131.38 743.70 130.50 745.26 123.30 745.26 122.42 743.70 121.77 742.92 120.95 742.14 116.28 738.23 113.29 735.89 112.60 735.11 112.27 734.33 112.39 733.54 112.94 732.76 113.83 731.98 114.95 731.20 118.85 728.86 122.41 727.30ZM188.79 693.58 195.36 698.09 201.17 701.10 202.24 701.85 202.90 702.60 203.01 703.35 202.64 704.10 201.90 704.86 200.90 705.61 197.35 707.86 196.34 708.62 192.50 711.63 191.70 712.38 191.10 713.13 190.42 714.63 189.75 716.89 189.36 719.15 189.14 721.40 187.28 721.40 187.06 719.15 186.67 716.89 186.00 714.63 185.32 713.13 184.72 712.38 183.92 711.63 180.08 708.62 179.07 707.86 175.52 705.61 174.52 704.86 173.78 704.10 173.41 703.35 173.52 702.60 174.18 701.85 175.25 701.10 181.06 698.09 187.63 693.58ZM250.07 666.22 250.08 672.27 250.23 673.02 250.56 673.78 251.02 674.54 253.93 678.32 256.24 682.10 257.06 683.61 258.26 686.64 259.04 688.90 259.44 690.42 259.68 691.93 259.71 692.68 259.63 693.44 259.33 694.20 258.30 695.71 256.26 697.98 255.35 698.73 253.12 700.25 245.92 700.25 243.69 698.73 242.78 697.98 240.74 695.71 239.71 694.20 239.41 693.44 239.33 692.68 239.36 691.93 239.60 690.42 240.00 688.90 240.78 686.64 241.98 683.61 242.80 682.10 245.11 678.32 248.02 674.54 248.48 673.78 248.81 673.02 248.96 672.27 248.97 666.22ZM313.90 660.65 316.19 663.70 316.95 665.22 317.64 668.26 318.14 671.31 318.45 674.35 318.50 677.40 318.37 678.16 317.86 679.68 311.79 692.62 311.42 694.15 311.38 696.43 310.28 696.43 310.24 694.15 309.87 692.62 303.80 679.68 303.29 678.16 303.16 677.40 303.21 674.35 303.52 671.31 304.02 668.26 304.71 665.22 305.47 663.70 307.76 660.65ZM373.96 639.79 375.51 642.83 376.30 645.11 377.37 650.44 377.63 652.72 377.70 655.00 377.59 659.56 377.43 661.84 376.84 664.12 375.26 668.68 373.96 674.77 370.32 674.77 369.02 668.68 367.44 664.12 366.85 661.84 366.69 659.56 366.58 655.00 366.65 652.72 366.91 650.44 367.98 645.11 368.77 642.83 370.32 639.79ZM434.00 620.07 435.32 626.14 436.88 630.69 437.48 632.97 437.69 636.00 437.95 645.11 438.13 646.63 438.69 649.66 438.83 651.18 438.80 651.94 438.36 653.45 436.38 657.25 434.02 663.32 432.88 663.32 430.52 657.25 428.54 653.45 428.10 651.94 428.07 651.18 428.21 649.66 428.77 646.63 428.95 645.11 429.21 636.00 429.42 632.97 430.02 630.69 431.58 626.14 432.90 620.07ZM495.31 588.58 495.34 599.90 495.58 605.19 495.86 608.21 496.64 611.23 498.63 617.27 500.27 621.79 500.60 623.30 500.67 624.06 500.62 625.57 500.27 627.83 497.04 642.17 495.78 646.70 495.47 648.21 495.34 649.72 495.31 654.25 494.21 654.25 494.18 649.72 494.05 648.21 493.74 646.70 492.48 642.17 489.25 627.83 488.90 625.57 488.85 624.06 488.92 623.30 489.25 621.79 490.89 617.27 492.88 611.23 493.66 608.21 493.94 605.19 494.18 599.90 494.21 588.58ZM556.62 590.17 556.90 593.97 557.59 598.52 558.24 600.79 560.02 606.10 561.52 612.93 561.95 615.97 562.32 621.28 562.29 623.56 562.15 624.31 561.66 625.83 559.63 630.38 557.89 633.42 554.25 633.42 552.51 630.38 550.48 625.83 549.99 624.31 549.85 623.56 549.82 621.28 550.19 615.97 550.62 612.93 552.12 606.10 553.90 600.79 554.55 598.52 555.24 593.97 555.52 590.17Z" fill="#C2EEEF" stroke="#1E1E1E" stroke-width="2.25" stroke-linejoin="round"/>
<path d="M113.10 720.60 174.41 683.20 235.72 650.60 297.03 616.40 358.34 587.00 419.65 563.90 480.96 548.80 542.27 532.10" fill="none" stroke="#F26A62" stroke-opacity="0.85" stroke-width="4.3" stroke-linejoin="round"/>
<path d="M113.10 734.10 174.41 703.90 235.72 688.00 297.03 676.10 358.34 657.00 419.65 642.60 480.96 626.70 542.27 615.60" fill="none" stroke="#1FB9BE" stroke-opacity="0.85" stroke-width="4.3" stroke-linejoin="round"/>
<path d="M671.75 753.8H1174.35M671.75 699.2H1174.35M671.75 644.6H1174.35M671.75 590H1174.35M671.75 535.4H1174.35M671.75 726.5H1174.35M671.75 671.9H1174.35M671.75 617.3H1174.35M671.75 562.7H1174.35M671.75 508.1H1174.35" stroke="#B3B3B3" stroke-opacity="0.5" stroke-width="1.4" fill="none"/>
<path d="M708.55 496.1V763.9M769.86 496.1V763.9M831.17 496.1V763.9M892.48 496.1V763.9M953.79 496.1V763.9M1015.1 496.1V763.9M1076.41 496.1V763.9M1137.72 496.1V763.9" stroke="#B3B3B3" stroke-opacity="0.5" stroke-width="1.4" fill="none"/>
<text transform="translate(627.15 735.25) scale(0.81 1)" font-size="24.27" fill="#303030">0.96</text>
<text transform="translate(627.28 680.65) scale(0.81 1)" font-size="24.27" fill="#303030">0.97</text>
<text transform="translate(627.14 626.05) scale(0.81 1)" font-size="24.27" fill="#303030">0.98</text>
<text transform="translate(627.22 571.45) scale(0.81 1)" font-size="24.27" fill="#303030">0.99</text>
<text transform="translate(627.06 516.85) scale(0.81 1)" font-size="24.27" fill="#303030">1.00</text>
<text transform="translate(702.58 787.3) scale(0.81 1)" font-size="24.27" fill="#303030">1</text>
<text transform="translate(763.89 787.3) scale(0.81 1)" font-size="24.27" fill="#303030">2</text>
<text transform="translate(825.2 787.3) scale(0.81 1)" font-size="24.27" fill="#303030">3</text>
<text transform="translate(886.51 787.3) scale(0.81 1)" font-size="24.27" fill="#303030">4</text>
<text transform="translate(947.82 787.3) scale(0.81 1)" font-size="24.27" fill="#303030">5</text>
<text transform="translate(1009.13 787.3) scale(0.81 1)" font-size="24.27" fill="#303030">6</text>
<text transform="translate(1070.44 787.3) scale(0.81 1)" font-size="24.27" fill="#303030">7</text>
<text transform="translate(1131.75 787.3) scale(0.81 1)" font-size="24.27" fill="#303030">8</text>
<text transform="translate(885.13 806.9) scale(0.832 1)" font-size="18.38" font-weight="bold" fill="#000">Effect size</text>
<text transform="translate(621.36 640.69) rotate(-90) scale(0.785 1)" font-size="19.63" font-weight="bold" fill="#000">SP</text>
<text transform="translate(874.04 475.5) scale(0.83 1)" font-size="36.36" font-weight="bold" fill="#000">Uni-2C</text>
<rect x="802.6" y="831.55" width="32.7" height="32.6" fill="#FBD6D3" stroke="#222" stroke-width="1.9"/>
<path d="M804.95 847.9H833.35" stroke="#F26A62" stroke-width="4.2"/>
<text transform="translate(848.66 854.7) scale(0.866 1)" font-size="17.97" fill="#1A1A1A">CellDMC</text>
<rect x="927.4" y="831.55" width="32.7" height="32.6" fill="#C2EEEF" stroke="#222" stroke-width="1.9"/>
<path d="M929.75 847.9H958.15" stroke="#1FB9BE" stroke-width="4.2"/>
<text transform="translate(973.4 854.7) scale(0.866 1)" font-size="17.97" fill="#1A1A1A">TCA (Y|X)</text>
<text transform="translate(601.16 477.7) scale(1 1)" font-size="38.66" font-weight="bold" fill="#000">E</text>
<path d="M701.61 508.59 701.28 509.36 700.81 510.14 700.16 510.91 696.33 514.78 695.71 515.56 695.48 516.33 695.33 517.88 695.30 521.75 694.20 521.75 694.17 517.88 694.02 516.33 693.79 515.56 693.17 514.78 689.34 510.91 688.69 510.14 688.22 509.36 687.89 508.59ZM758.74 509.45 759.29 510.21 759.70 510.98 759.94 511.74 760.03 512.51 759.90 513.27 759.58 514.04 758.30 516.34 756.88 518.63 756.63 519.40 756.61 538.53 755.51 538.53 755.49 519.40 755.24 518.63 753.82 516.34 752.54 514.04 752.22 513.27 752.09 512.51 752.18 511.74 752.42 510.98 752.83 510.21 753.38 509.45ZM817.92 508.30 819.38 509.83 819.85 510.59 820.59 512.12 821.00 513.65 820.91 514.41 820.37 515.18 818.88 516.71 818.46 517.47 818.13 519.76 817.92 522.82 817.92 540.39 816.82 540.39 816.82 522.82 816.61 519.76 816.28 517.47 815.86 516.71 814.37 515.18 813.83 514.41 813.74 513.65 814.15 512.12 814.89 510.59 815.36 509.83 816.82 508.30ZM879.76 511.46 880.38 513.01 880.61 513.79 880.72 514.57 880.71 520.79 880.53 522.35 879.88 525.46 879.23 529.35 878.13 529.35 877.48 525.46 876.83 522.35 876.65 520.79 876.64 514.57 876.75 513.79 876.98 513.01 877.60 511.46ZM940.54 510.28 942.08 511.79 942.47 512.55 943.06 514.82 943.24 516.34 943.23 517.10 942.99 517.86 941.58 520.13 941.21 520.89 940.59 523.92 940.54 538.32 939.44 538.32 939.39 523.92 938.77 520.89 938.40 520.13 936.99 517.86 936.75 517.10 936.74 516.34 936.92 514.82 937.51 512.55 937.90 511.79 939.44 510.28ZM1001.85 510.28 1003.45 511.80 1003.76 512.56 1003.94 514.07 1004.06 516.35 1004.05 517.11 1003.86 517.87 1002.50 520.91 1001.96 523.94 1001.85 525.46 1001.85 536.85 1000.75 536.85 1000.75 525.46 1000.64 523.94 1000.10 520.91 998.74 517.87 998.55 517.11 998.54 516.35 998.66 514.07 998.84 512.56 999.15 511.80 1000.75 510.28ZM1063.40 512.04 1064.44 513.56 1064.82 514.32 1065.03 515.07 1065.05 519.63 1064.96 520.39 1064.68 521.15 1063.57 523.42 1063.33 524.94 1063.17 527.98 1063.16 543.16 1062.06 543.16 1062.05 527.98 1061.89 524.94 1061.65 523.42 1060.54 521.15 1060.26 520.39 1060.17 519.63 1060.19 515.07 1060.40 514.32 1060.78 513.56 1061.82 512.04ZM1125.37 513.51 1126.03 515.04 1126.25 515.81 1126.34 517.34 1125.91 519.64 1124.51 525.01 1124.47 537.29 1123.37 537.29 1123.33 525.01 1121.93 519.64 1121.50 517.34 1121.59 515.81 1121.81 515.04 1122.47 513.51Z" fill="#FBD6D3" stroke="#1E1E1E" stroke-width="2.25" stroke-linejoin="round"/>
<path d="M736.27 508.30 737.07 508.98 736.09 509.65 733.24 510.33 723.11 511.00 721.59 511.00 711.46 510.33 708.61 509.65 707.63 508.98 708.43 508.30ZM785.22 509.02 789.13 509.80 791.15 510.57 792.13 511.35 792.69 512.13 792.46 512.91 790.56 513.69 788.16 514.46 784.42 516.02 782.90 516.02 779.16 514.46 776.76 513.69 774.86 512.91 774.63 512.13 775.19 511.35 776.17 510.57 778.19 509.80 782.10 509.02ZM845.52 510.02 848.01 512.41 849.13 513.21 850.47 514.00 851.53 514.80 851.75 515.59 850.47 516.39 848.69 517.19 846.61 518.78 845.84 519.57 845.52 520.37 845.52 522.76 844.42 522.76 844.42 520.37 844.10 519.57 843.33 518.78 841.25 517.19 839.47 516.39 838.19 515.59 838.41 514.80 839.47 514.00 840.81 513.21 841.93 512.41 844.42 510.02ZM907.04 515.47 908.62 516.97 909.03 517.72 909.72 519.98 909.92 521.48 909.90 522.23 909.70 522.98 909.35 523.73 907.93 525.99 906.83 527.49 905.73 527.49 904.63 525.99 903.21 523.73 902.86 522.98 902.66 522.23 902.64 521.48 902.84 519.98 903.53 517.72 903.94 516.97 905.52 515.47ZM968.14 518.35 969.35 519.90 969.80 520.68 970.59 523.02 970.84 524.58 970.81 525.35 970.58 526.13 968.96 529.25 968.71 530.02 968.28 532.36 968.14 533.92 967.04 533.92 966.90 532.36 966.47 530.02 966.22 529.25 964.60 526.13 964.37 525.35 964.34 524.58 964.59 523.02 965.38 520.68 965.83 519.90 967.04 518.35ZM1029.45 519.82 1029.95 522.09 1030.59 524.37 1031.64 526.65 1032.13 528.17 1032.12 528.93 1031.85 529.69 1030.42 531.97 1030.08 532.73 1029.64 535.01 1029.45 537.29 1028.35 537.29 1028.16 535.01 1027.72 532.73 1027.38 531.97 1025.95 529.69 1025.68 528.93 1025.67 528.17 1026.16 526.65 1027.21 524.37 1027.85 522.09 1028.35 519.82ZM1090.76 522.75 1091.64 525.03 1092.91 528.82 1093.34 530.34 1093.45 531.10 1093.43 531.85 1093.16 532.61 1091.72 534.89 1091.39 535.65 1090.90 538.68 1090.76 540.96 1089.66 540.96 1089.52 538.68 1089.03 535.65 1088.70 534.89 1087.26 532.61 1086.99 531.85 1086.97 531.10 1087.08 530.34 1087.51 528.82 1088.78 525.03 1089.66 522.75ZM1152.07 523.19 1153.98 530.08 1154.26 531.61 1154.28 532.38 1154.16 533.14 1153.92 533.91 1152.94 536.21 1152.71 536.97 1152.25 540.80 1152.07 544.63 1150.97 544.63 1150.79 540.80 1150.33 536.97 1150.10 536.21 1149.12 533.91 1148.88 533.14 1148.76 532.38 1148.78 531.61 1149.06 530.08 1150.97 523.19Z" fill="#C2EEEF" stroke="#1E1E1E" stroke-width="2.25" stroke-linejoin="round"/>
<path d="M708.55 512.50 769.86 514.70 831.17 516.80 892.48 517.80 953.79 518.00 1015.10 519.50 1076.41 520.50 1137.72 520.90" fill="none" stroke="#F26A62" stroke-opacity="0.85" stroke-width="4.3" stroke-linejoin="round"/>
<path d="M708.55 508.20 769.86 511.10 831.17 514.00 892.48 520.50 953.79 524.40 1015.10 528.60 1076.41 530.80 1137.72 533.20" fill="none" stroke="#1FB9BE" stroke-opacity="0.85" stroke-width="4.3" stroke-linejoin="round"/>
<path d="M1267.2 721.55H1769.8M1267.2 660.55H1769.8M1267.2 599.55H1769.8M1267.2 538.55H1769.8M1267.2 752.05H1769.8M1267.2 691.05H1769.8M1267.2 630.05H1769.8M1267.2 569.05H1769.8M1267.2 508.05H1769.8" stroke="#B3B3B3" stroke-opacity="0.5" stroke-width="1.4" fill="none"/>
<path d="M1304 496.1V763.9M1365.31 496.1V763.9M1426.62 496.1V763.9M1487.93 496.1V763.9M1549.24 496.1V763.9M1610.55 496.1V763.9M1671.86 496.1V763.9M1733.17 496.1V763.9" stroke="#B3B3B3" stroke-opacity="0.5" stroke-width="1.4" fill="none"/>
<text transform="translate(1222.51 760.8) scale(0.81 1)" font-size="24.27" fill="#303030">0.00</text>
<text transform="translate(1222.56 699.8) scale(0.81 1)" font-size="24.27" fill="#303030">0.25</text>
<text transform="translate(1222.51 638.8) scale(0.81 1)" font-size="24.27" fill="#303030">0.50</text>
<text transform="translate(1222.56 577.8) scale(0.81 1)" font-size="24.27" fill="#303030">0.75</text>
<text transform="translate(1222.51 516.8) scale(0.81 1)" font-size="24.27" fill="#303030">1.00</text>
<text transform="translate(1298.03 787.3) scale(0.81 1)" font-size="24.27" fill="#303030">1</text>
<text transform="translate(1359.34 787.3) scale(0.81 1)" font-size="24.27" fill="#303030">2</text>
<text transform="translate(1420.65 787.3) scale(0.81 1)" font-size="24.27" fill="#303030">3</text>
<text transform="translate(1481.96 787.3) scale(0.81 1)" font-size="24.27" fill="#303030">4</text>
<text transform="translate(1543.27 787.3) scale(0.81 1)" font-size="24.27" fill="#303030">5</text>
<text transform="translate(1604.58 787.3) scale(0.81 1)" font-size="24.27" fill="#303030">6</text>
<text transform="translate(1665.89 787.3) scale(0.81 1)" font-size="24.27" fill="#303030">7</text>
<text transform="translate(1727.2 787.3) scale(0.81 1)" font-size="24.27" fill="#303030">8</text>
<text transform="translate(1480.58 806.9) scale(0.832 1)" font-size="18.38" font-weight="bold" fill="#000">Effect size</text>
<text transform="translate(1216.61 645.88) rotate(-90) scale(0.785 1)" font-size="19.63" font-weight="bold" fill="#000">PPV</text>
<text transform="translate(1469.49 475.5) scale(0.83 1)" font-size="36.36" font-weight="bold" fill="#000">Uni-2C</text>
<rect x="1398.05" y="831.55" width="32.7" height="32.6" fill="#FBD6D3" stroke="#222" stroke-width="1.9"/>
<path d="M1400.4 847.9H1428.8" stroke="#F26A62" stroke-width="4.2"/>
<text transform="translate(1444.11 854.7) scale(0.866 1)" font-size="17.97" fill="#1A1A1A">CellDMC</text>
<rect x="1522.85" y="831.55" width="32.7" height="32.6" fill="#C2EEEF" stroke="#222" stroke-width="1.9"/>
<path d="M1525.2 847.9H1553.6" stroke="#1FB9BE" stroke-width="4.2"/>
<text transform="translate(1568.85 854.7) scale(0.866 1)" font-size="17.97" fill="#1A1A1A">TCA (Y|X)</text>
<text transform="translate(1199.81 477.7) scale(1 1)" font-size="38.66" font-weight="bold" fill="#000">F</text>
<path d="M1292.56 508.75 1294.02 514.01 1294.69 517.77 1295.52 526.79 1295.71 530.55 1295.76 534.31 1295.46 539.57 1294.50 547.84 1291.34 563.63 1290.82 567.39 1290.75 613.24 1289.65 613.24 1289.58 567.39 1289.06 563.63 1285.90 547.84 1284.94 539.57 1284.64 534.31 1284.69 530.55 1284.88 526.79 1285.71 517.77 1286.38 514.01 1287.84 508.75ZM1353.87 512.25 1356.09 518.26 1358.22 525.76 1359.01 529.52 1359.17 531.02 1359.20 532.52 1358.89 534.77 1357.12 540.78 1355.62 547.53 1353.11 560.30 1352.49 564.80 1352.19 570.06 1352.06 574.56 1352.06 619.60 1350.96 619.60 1350.96 574.56 1350.83 570.06 1350.53 564.80 1349.91 560.30 1347.40 547.53 1345.90 540.78 1344.13 534.77 1343.82 532.52 1343.85 531.02 1344.01 529.52 1344.80 525.76 1346.93 518.26 1349.15 512.25ZM1413.37 508.75 1420.54 519.29 1421.85 521.55 1423.05 524.56 1423.82 526.82 1424.33 529.07 1424.44 530.58 1424.33 531.33 1424.05 532.08 1423.15 533.59 1421.04 536.60 1419.17 540.36 1417.85 543.38 1417.06 545.63 1416.40 547.89 1415.09 553.16 1414.01 556.92 1413.52 559.18 1413.40 560.69 1413.38 563.70 1413.37 607.36 1412.27 607.36 1412.26 563.70 1412.24 560.69 1412.12 559.18 1411.63 556.92 1410.55 553.16 1409.24 547.89 1408.58 545.63 1407.79 543.38 1406.47 540.36 1404.60 536.60 1402.49 533.59 1401.59 532.08 1401.31 531.33 1401.20 530.58 1401.31 529.07 1401.82 526.82 1402.59 524.56 1403.79 521.55 1405.10 519.29 1412.27 508.75ZM1479.52 517.34 1482.05 520.35 1482.88 521.85 1483.20 523.35 1483.65 527.11 1483.91 530.87 1483.97 533.87 1483.89 534.62 1483.49 536.13 1482.85 537.63 1481.00 541.39 1480.49 542.89 1480.18 544.39 1479.77 546.65 1479.53 548.90 1479.52 555.67 1479.36 557.17 1478.81 558.67 1477.64 560.93 1476.52 562.43 1475.06 563.93 1473.20 563.93 1471.74 562.43 1470.62 560.93 1469.45 558.67 1468.90 557.17 1468.74 555.67 1468.73 548.90 1468.49 546.65 1468.08 544.39 1467.77 542.89 1467.26 541.39 1465.41 537.63 1464.77 536.13 1464.37 534.62 1464.29 533.87 1464.35 530.87 1464.61 527.11 1465.06 523.35 1465.38 521.85 1466.21 520.35 1468.74 517.34ZM1537.26 513.84 1540.66 517.61 1544.06 522.13 1544.99 523.64 1547.06 527.41 1547.68 528.92 1547.95 530.43 1547.76 531.94 1547.20 533.45 1543.44 540.23 1540.39 545.51 1537.84 550.79 1537.02 553.06 1536.70 554.57 1536.38 556.83 1536.04 560.60 1535.99 572.67 1534.89 572.67 1534.84 560.60 1534.50 556.83 1534.18 554.57 1533.86 553.06 1533.04 550.79 1530.49 545.51 1527.44 540.23 1523.68 533.45 1523.12 531.94 1522.93 530.43 1523.20 528.92 1523.82 527.41 1525.89 523.64 1526.82 522.13 1530.22 517.61 1533.62 513.84ZM1599.46 514.63 1601.75 516.14 1603.79 517.65 1605.48 519.17 1607.64 521.43 1608.95 522.95 1609.47 523.70 1609.86 524.46 1610.10 525.21 1610.14 525.97 1609.94 526.73 1609.53 527.48 1608.96 528.24 1606.88 530.50 1605.75 532.02 1604.35 535.04 1602.62 539.58 1601.04 544.11 1599.98 547.89 1598.51 554.69 1597.32 560.74 1596.18 560.74 1594.99 554.69 1593.52 547.89 1592.46 544.11 1590.88 539.58 1589.15 535.04 1587.75 532.02 1586.62 530.50 1584.54 528.24 1583.97 527.48 1583.56 526.73 1583.36 525.97 1583.40 525.21 1583.64 524.46 1584.03 523.70 1584.55 522.95 1585.86 521.43 1588.02 519.17 1589.71 517.65 1591.75 516.14 1594.04 514.63ZM1663.44 516.22 1665.59 517.72 1667.42 519.22 1668.13 519.97 1668.65 520.72 1669.33 522.22 1670.13 524.47 1670.55 526.72 1670.57 533.48 1670.49 534.23 1670.13 534.98 1669.55 535.73 1667.41 537.98 1663.46 543.23 1662.27 545.48 1660.81 549.23 1660.00 552.23 1659.29 555.98 1658.85 558.98 1658.64 561.99 1658.61 569.49 1657.51 569.49 1657.48 561.99 1657.27 558.98 1656.83 555.98 1656.12 552.23 1655.31 549.23 1653.85 545.48 1652.66 543.23 1648.71 537.98 1646.57 535.73 1645.99 534.98 1645.63 534.23 1645.55 533.48 1645.57 526.72 1645.99 524.47 1646.79 522.22 1647.47 520.72 1647.99 519.97 1648.70 519.22 1650.53 517.72 1652.68 516.22ZM1731.88 519.40 1733.39 520.93 1733.97 521.69 1734.37 522.46 1734.55 523.22 1734.50 523.99 1734.31 524.75 1733.59 526.28 1731.20 530.10 1727.41 538.51 1723.50 545.39 1720.83 550.74 1720.38 552.27 1720.28 553.04 1720.04 556.09 1719.94 559.15 1718.80 559.15 1718.70 556.09 1718.46 553.04 1718.36 552.27 1717.91 550.74 1715.24 545.39 1711.33 538.51 1707.54 530.10 1705.15 526.28 1704.43 524.75 1704.24 523.99 1704.19 523.22 1704.37 522.46 1704.77 521.69 1705.35 520.93 1706.86 519.40Z" fill="#FBD6D3" stroke="#1E1E1E" stroke-width="2.25" stroke-linejoin="round"/>
<path d="M1322.65 508.75 1322.57 524.53 1322.27 534.30 1321.98 539.56 1321.26 547.83 1319.82 557.60 1318.95 564.36 1318.60 567.36 1318.38 570.37 1318.35 598.93 1317.25 598.93 1317.22 570.37 1317.00 567.36 1316.65 564.36 1315.78 557.60 1314.34 547.83 1313.62 539.56 1313.33 534.30 1313.03 524.53 1312.95 508.75ZM1380.04 515.11 1381.33 516.63 1382.45 518.15 1383.26 519.67 1383.51 520.43 1383.68 521.95 1383.89 526.51 1384.12 528.02 1384.51 528.78 1385.05 529.54 1387.80 532.58 1388.37 533.34 1390.13 536.38 1390.68 537.90 1390.73 538.66 1390.63 539.42 1390.11 540.94 1388.49 543.97 1385.90 549.29 1384.58 552.33 1382.18 559.17 1380.04 566.00 1378.18 566.00 1376.04 559.17 1373.64 552.33 1372.32 549.29 1369.73 543.97 1368.11 540.94 1367.59 539.42 1367.49 538.66 1367.54 537.90 1368.09 536.38 1369.85 533.34 1370.42 532.58 1373.17 529.54 1373.71 528.78 1374.10 528.02 1374.33 526.51 1374.54 521.95 1374.71 520.43 1374.96 519.67 1375.77 518.15 1376.89 516.63 1378.18 515.11ZM1441.71 522.11 1444.76 533.50 1445.68 536.54 1446.57 538.82 1450.79 547.94 1451.03 548.69 1451.15 549.45 1451.01 550.97 1450.61 552.49 1449.51 555.53 1447.80 560.85 1446.15 565.40 1445.25 567.68 1444.20 569.96 1443.31 571.48 1442.24 573.00 1438.60 573.00 1437.53 571.48 1436.64 569.96 1435.59 567.68 1434.69 565.40 1433.04 560.85 1431.33 555.53 1430.23 552.49 1429.83 550.97 1429.69 549.45 1429.81 548.69 1430.05 547.94 1434.27 538.82 1435.16 536.54 1436.08 533.50 1439.13 522.11ZM1502.66 542.47 1504.64 544.74 1506.40 547.00 1508.41 550.02 1509.72 552.29 1510.44 553.80 1511.87 557.58 1512.28 559.09 1512.46 560.60 1512.37 562.11 1511.91 564.38 1508.09 577.97 1505.31 586.28 1502.31 593.84 1501.15 593.84 1498.15 586.28 1495.37 577.97 1491.55 564.38 1491.09 562.11 1491.00 560.60 1491.18 559.09 1491.59 557.58 1493.02 553.80 1493.74 552.29 1495.05 550.02 1497.06 547.00 1498.82 544.74 1500.80 542.47ZM1564.33 548.03 1567.41 552.60 1569.71 556.40 1570.98 558.69 1574.31 565.54 1574.80 567.07 1575.01 568.59 1574.97 569.35 1574.61 570.87 1573.99 572.40 1572.16 576.20 1570.21 582.30 1569.32 584.58 1568.56 586.10 1567.64 587.63 1564.86 591.43 1561.22 591.43 1558.44 587.63 1557.52 586.10 1556.76 584.58 1555.87 582.30 1553.92 576.20 1552.09 572.40 1551.47 570.87 1551.11 569.35 1551.07 568.59 1551.28 567.07 1551.77 565.54 1555.10 558.69 1556.37 556.40 1558.67 552.60 1561.75 548.03ZM1624.92 548.82 1626.50 551.86 1628.27 554.89 1631.52 559.44 1632.97 561.71 1635.60 567.02 1636.10 568.54 1636.32 570.06 1636.30 570.81 1635.95 572.33 1634.38 576.12 1632.43 582.19 1631.57 584.46 1630.42 586.74 1625.57 595.08 1625.02 596.60 1624.90 598.11 1623.80 598.11 1623.68 596.60 1623.13 595.08 1618.28 586.74 1617.13 584.46 1616.27 582.19 1614.32 576.12 1612.75 572.33 1612.40 570.81 1612.38 570.06 1612.60 568.54 1613.10 567.02 1615.73 561.71 1617.18 559.44 1620.43 554.89 1622.20 551.86 1623.78 548.82ZM1688.37 554.87 1692.28 557.15 1693.34 557.91 1694.20 558.67 1694.80 559.43 1696.76 562.47 1697.77 564.75 1698.12 566.27 1698.13 568.56 1697.85 571.60 1697.36 574.64 1697.20 575.40 1696.60 576.92 1695.71 578.44 1692.66 583.01 1688.87 588.33 1687.02 590.61 1686.56 591.37 1686.28 592.13 1686.23 592.89 1686.21 600.50 1685.11 600.50 1685.09 592.89 1685.04 592.13 1684.76 591.37 1684.30 590.61 1682.45 588.33 1678.66 583.01 1675.61 578.44 1674.72 576.92 1674.12 575.40 1673.96 574.64 1673.47 571.60 1673.19 568.56 1673.20 566.27 1673.55 564.75 1674.56 562.47 1676.52 559.43 1677.12 558.67 1677.98 557.91 1679.04 557.15 1682.95 554.87ZM1748.26 549.14 1750.18 551.43 1751.90 553.71 1753.87 556.76 1755.21 559.05 1756.37 561.33 1758.36 565.91 1758.81 567.43 1758.94 568.96 1758.85 569.72 1758.42 571.24 1755.94 576.58 1753.06 584.20 1751.04 588.77 1748.79 593.34 1745.15 593.34 1742.90 588.77 1740.88 584.20 1738.00 576.58 1735.52 571.24 1735.09 569.72 1735.00 568.96 1735.13 567.43 1735.58 565.91 1737.57 561.33 1738.73 559.05 1740.07 556.76 1742.04 553.71 1743.76 551.43 1745.68 549.14Z" fill="#C2EEEF" stroke="#1E1E1E" stroke-width="2.25" stroke-linejoin="round"/>
<path d="M1304.00 544.90 1365.31 541.70 1426.62 537.70 1487.93 536.10 1549.24 533.70 1610.55 532.10 1671.86 532.90 1733.17 531.80" fill="none" stroke="#F26A62" stroke-opacity="0.85" stroke-width="4.3" stroke-linejoin="round"/>
<path d="M1304.00 533.40 1365.31 538.50 1426.62 549.60 1487.93 566.30 1549.24 570.00 1610.55 571.90 1671.86 570.60 1733.17 570.30" fill="none" stroke="#1FB9BE" stroke-opacity="0.85" stroke-width="4.3" stroke-linejoin="round"/>
<path d="M76.3 1165.58H578.9M76.3 1100.03H578.9M76.3 1034.47H578.9M76.3 968.92H578.9M76.3 1198.35H578.9M76.3 1132.8H578.9M76.3 1067.25H578.9M76.3 1001.7H578.9" stroke="#B3B3B3" stroke-opacity="0.5" stroke-width="1.4" fill="none"/>
<path d="M113.1 942.5V1210.3M174.41 942.5V1210.3M235.72 942.5V1210.3M297.03 942.5V1210.3M358.34 942.5V1210.3M419.65 942.5V1210.3M480.96 942.5V1210.3M542.27 942.5V1210.3" stroke="#B3B3B3" stroke-opacity="0.5" stroke-width="1.4" fill="none"/>
<text transform="translate(31.61 1207.1) scale(0.81 1)" font-size="24.27" fill="#303030">0.00</text>
<text transform="translate(31.66 1141.55) scale(0.81 1)" font-size="24.27" fill="#303030">0.25</text>
<text transform="translate(31.61 1076) scale(0.81 1)" font-size="24.27" fill="#303030">0.50</text>
<text transform="translate(31.66 1010.45) scale(0.81 1)" font-size="24.27" fill="#303030">0.75</text>
<text transform="translate(107.13 1233.7) scale(0.81 1)" font-size="24.27" fill="#303030">1</text>
<text transform="translate(168.44 1233.7) scale(0.81 1)" font-size="24.27" fill="#303030">2</text>
<text transform="translate(229.75 1233.7) scale(0.81 1)" font-size="24.27" fill="#303030">3</text>
<text transform="translate(291.06 1233.7) scale(0.81 1)" font-size="24.27" fill="#303030">4</text>
<text transform="translate(352.37 1233.7) scale(0.81 1)" font-size="24.27" fill="#303030">5</text>
<text transform="translate(413.68 1233.7) scale(0.81 1)" font-size="24.27" fill="#303030">6</text>
<text transform="translate(474.99 1233.7) scale(0.81 1)" font-size="24.27" fill="#303030">7</text>
<text transform="translate(536.3 1233.7) scale(0.81 1)" font-size="24.27" fill="#303030">8</text>
<text transform="translate(289.68 1253.3) scale(0.832 1)" font-size="18.38" font-weight="bold" fill="#000">Effect size</text>
<text transform="translate(25.91 1087.05) rotate(-90) scale(0.785 1)" font-size="19.63" font-weight="bold" fill="#000">SE</text>
<text transform="translate(287.7 921.9) scale(0.83 1)" font-size="36.36" font-weight="bold" fill="#000">Bi-2C</text>
<rect x="207.15" y="1277.95" width="32.7" height="32.6" fill="#FBD6D3" stroke="#222" stroke-width="1.9"/>
<path d="M209.5 1294.3H237.9" stroke="#F26A62" stroke-width="4.2"/>
<text transform="translate(253.21 1301.1) scale(0.866 1)" font-size="17.97" fill="#1A1A1A">CellDMC</text>
<rect x="331.95" y="1277.95" width="32.7" height="32.6" fill="#C2EEEF" stroke="#222" stroke-width="1.9"/>
<path d="M334.3 1294.3H362.7" stroke="#1FB9BE" stroke-width="4.2"/>
<text transform="translate(377.95 1301.1) scale(0.866 1)" font-size="17.97" fill="#1A1A1A">TCA (Y|X)</text>
<text transform="translate(2.37 925.91) scale(1 1)" font-size="39.83" font-weight="bold" fill="#000">G</text>
<path d="M99.88 1042.87 100.07 1043.64 100.80 1045.18 101.27 1045.95 101.97 1046.72 104.81 1049.03 108.26 1052.11 108.97 1052.88 109.48 1053.65 110.20 1055.20 110.45 1055.97 110.56 1056.74 110.34 1057.51 109.62 1058.28 107.62 1059.82 106.84 1060.59 106.22 1061.36 105.23 1062.13 102.37 1062.90 96.23 1062.90 93.37 1062.13 92.38 1061.36 91.76 1060.59 90.98 1059.82 88.98 1058.28 88.26 1057.51 88.04 1056.74 88.15 1055.97 88.40 1055.20 89.12 1053.65 89.63 1052.88 90.34 1052.11 93.79 1049.03 96.63 1046.72 97.33 1045.95 97.80 1045.18 98.53 1043.64 98.72 1042.87ZM161.54 1019.49 162.74 1021.02 164.11 1022.55 164.92 1023.32 167.94 1025.62 168.80 1026.39 169.41 1027.15 170.32 1029.45 170.70 1030.99 170.79 1031.75 170.78 1032.52 170.58 1033.28 170.18 1034.05 169.01 1035.58 167.65 1037.12 165.92 1038.65 162.43 1040.95 158.79 1040.95 155.30 1038.65 153.57 1037.12 152.21 1035.58 151.04 1034.05 150.64 1033.28 150.44 1032.52 150.43 1031.75 150.52 1030.99 150.90 1029.45 151.81 1027.15 152.42 1026.39 153.28 1025.62 156.30 1023.32 157.11 1022.55 158.48 1021.02 159.68 1019.49ZM223.21 1000.88 226.01 1003.15 226.69 1003.91 227.16 1004.67 227.44 1006.19 227.83 1011.50 228.11 1012.26 230.54 1015.29 230.85 1016.05 230.79 1016.81 230.43 1017.57 229.86 1018.33 227.69 1020.60 222.47 1027.43 221.37 1027.43 216.15 1020.60 213.98 1018.33 213.41 1017.57 213.05 1016.81 212.99 1016.05 213.30 1015.29 215.73 1012.26 216.01 1011.50 216.40 1006.19 216.68 1004.67 217.15 1003.91 217.83 1003.15 220.63 1000.88ZM284.52 987.99 284.59 989.52 284.79 991.05 285.08 992.58 285.35 993.34 286.31 994.87 287.72 996.40 288.56 997.16 289.92 997.93 296.39 1000.22 297.46 1000.98 297.16 1001.75 295.75 1002.51 291.94 1004.04 287.65 1006.33 286.41 1007.10 285.45 1007.86 284.45 1009.39 283.87 1010.92 283.81 1015.50 282.65 1015.50 282.59 1010.92 282.01 1009.39 281.01 1007.86 280.05 1007.10 278.81 1006.33 274.52 1004.04 270.71 1002.51 269.30 1001.75 269.00 1000.98 270.07 1000.22 276.54 997.93 277.90 997.16 278.74 996.40 280.15 994.87 281.11 993.34 281.38 992.58 281.67 991.05 281.87 989.52 281.94 987.99ZM345.09 974.94 345.31 977.25 345.45 978.02 345.76 978.79 346.38 979.56 349.00 981.87 349.74 982.64 351.30 984.95 352.46 987.26 353.18 989.57 353.46 991.11 353.47 991.88 353.19 992.65 352.68 993.42 347.61 999.58 341.47 999.58 336.40 993.42 335.89 992.65 335.61 991.88 335.62 991.11 335.90 989.57 336.62 987.26 337.78 984.95 339.34 982.64 340.08 981.87 342.70 979.56 343.32 978.79 343.63 978.02 343.77 977.25 343.99 974.94ZM406.40 964.29 406.46 966.58 406.72 969.64 406.82 970.41 407.14 971.17 408.32 972.70 413.20 978.05 413.68 978.82 413.90 979.58 413.85 980.35 413.65 981.11 412.25 984.17 410.06 989.52 408.58 992.58 406.40 996.40 405.30 996.40 403.12 992.58 401.64 989.52 399.45 984.17 398.05 981.11 397.85 980.35 397.80 979.58 398.02 978.82 398.50 978.05 403.38 972.70 404.56 971.17 404.88 970.41 404.98 969.64 405.24 966.58 405.30 964.29ZM467.73 960.63 469.77 963.66 472.31 966.68 473.29 968.19 473.71 969.71 474.36 973.49 475.12 975.76 475.22 976.51 475.12 978.03 474.84 979.54 474.41 981.05 474.01 981.81 473.12 982.56 471.91 983.32 469.24 984.83 467.71 985.59 466.61 985.59 465.08 984.83 462.41 983.32 461.20 982.56 460.31 981.81 459.91 981.05 459.48 979.54 459.20 978.03 459.10 976.51 459.20 975.76 459.96 973.49 460.61 969.71 461.03 968.19 462.01 966.68 464.55 963.66 466.59 960.63ZM529.76 960.15 532.48 963.19 535.31 966.99 536.14 968.51 536.80 970.03 537.30 971.55 537.41 972.31 537.33 973.07 536.96 973.84 535.06 976.12 531.63 980.68 529.02 984.48 527.92 984.48 525.31 980.68 521.88 976.12 519.98 973.84 519.61 973.07 519.53 972.31 519.64 971.55 520.14 970.03 520.80 968.51 521.63 966.99 524.46 963.19 527.18 960.15Z" fill="#FBD6D3" stroke="#1E1E1E" stroke-width="2.25" stroke-linejoin="round"/>
<path d="M127.45 1045.73 127.45 1050.32 127.59 1051.09 128.11 1051.86 129.90 1053.39 132.06 1054.92 133.51 1055.68 140.00 1058.74 141.37 1059.51 141.68 1060.28 141.00 1061.04 139.69 1061.81 136.32 1063.34 130.50 1066.40 123.30 1066.40 117.48 1063.34 114.11 1061.81 112.80 1061.04 112.12 1060.28 112.43 1059.51 113.80 1058.74 120.29 1055.68 121.74 1054.92 123.90 1053.39 125.69 1051.86 126.21 1051.09 126.35 1050.32 126.35 1045.73ZM189.50 1033.96 191.61 1036.22 194.15 1039.23 196.85 1042.24 197.78 1043.74 198.01 1044.50 198.04 1045.25 197.89 1046.75 197.37 1049.01 197.14 1049.76 196.78 1050.52 196.23 1051.27 194.73 1052.78 192.94 1054.28 191.96 1055.03 189.50 1056.54 186.92 1056.54 184.46 1055.03 183.48 1054.28 181.69 1052.78 180.19 1051.27 179.64 1050.52 179.28 1049.76 179.05 1049.01 178.53 1046.75 178.38 1045.25 178.41 1044.50 178.64 1043.74 179.57 1042.24 182.27 1039.23 184.81 1036.22 186.92 1033.96ZM250.45 1020.60 250.91 1022.14 251.98 1024.45 252.45 1025.22 253.63 1026.75 255.83 1029.06 256.89 1029.83 259.59 1031.37 260.65 1032.14 261.13 1032.91 260.90 1033.68 260.18 1034.45 256.95 1036.76 252.31 1040.60 251.61 1041.37 251.10 1042.14 250.31 1043.68 250.07 1044.45 248.97 1044.45 248.73 1043.68 247.94 1042.14 247.43 1041.37 246.73 1040.60 242.09 1036.76 238.86 1034.45 238.14 1033.68 237.91 1032.91 238.39 1032.14 239.45 1031.37 242.15 1029.83 243.21 1029.06 245.41 1026.75 246.59 1025.22 247.06 1024.45 248.13 1022.14 248.59 1020.60ZM311.38 1006.28 311.52 1009.29 311.76 1011.55 311.93 1012.30 312.21 1013.05 313.05 1014.55 315.14 1017.56 316.02 1019.06 318.29 1024.33 318.71 1025.83 318.89 1027.33 318.82 1028.08 318.60 1028.84 317.79 1030.34 315.62 1033.35 313.62 1036.35 311.38 1039.36 310.28 1039.36 308.04 1036.35 306.04 1033.35 303.87 1030.34 303.06 1028.84 302.84 1028.08 302.77 1027.33 302.95 1025.83 303.37 1024.33 305.64 1019.06 306.52 1017.56 308.61 1014.55 309.45 1013.05 309.73 1012.30 309.90 1011.55 310.14 1009.29 310.28 1006.28ZM372.71 1011.52 374.01 1014.53 375.11 1016.78 379.79 1025.06 380.43 1026.56 380.55 1027.31 380.49 1028.06 379.94 1029.57 378.19 1032.58 377.13 1034.08 373.07 1039.34 371.21 1039.34 367.15 1034.08 366.09 1032.58 364.34 1029.57 363.79 1028.06 363.73 1027.31 363.85 1026.56 364.49 1025.06 369.17 1016.78 370.27 1014.53 371.57 1011.52ZM434.38 1008.82 435.98 1011.07 436.82 1012.57 437.42 1014.07 438.16 1016.32 438.69 1018.57 439.00 1020.82 439.30 1023.82 439.36 1026.07 439.29 1026.82 438.95 1028.32 435.43 1038.07 434.00 1043.32 432.90 1043.32 431.47 1038.07 427.95 1028.32 427.61 1026.82 427.54 1026.07 427.60 1023.82 427.90 1020.82 428.21 1018.57 428.74 1016.32 429.48 1014.07 430.08 1012.57 430.92 1011.07 432.52 1008.82ZM495.33 1007.55 496.76 1012.08 497.84 1015.10 498.24 1016.61 498.36 1018.12 498.36 1024.16 498.51 1024.91 498.94 1025.67 500.69 1027.94 501.00 1028.69 501.03 1029.45 501.02 1033.98 500.67 1034.73 499.96 1035.49 498.97 1036.24 496.58 1037.75 492.94 1037.75 490.55 1036.24 489.56 1035.49 488.85 1034.73 488.50 1033.98 488.49 1029.45 488.52 1028.69 488.83 1027.94 490.58 1025.67 491.01 1024.91 491.16 1024.16 491.16 1018.12 491.28 1016.61 491.68 1015.10 492.76 1012.08 494.19 1007.55ZM556.62 1002.46 556.66 1007.05 556.75 1007.82 557.17 1009.35 558.81 1013.18 559.73 1014.71 561.41 1017.01 561.86 1017.78 562.19 1018.54 562.34 1019.31 562.32 1020.08 562.10 1021.61 561.34 1024.67 559.31 1030.03 558.50 1033.10 557.89 1036.16 554.25 1036.16 553.64 1033.10 552.83 1030.03 550.80 1024.67 550.04 1021.61 549.82 1020.08 549.80 1019.31 549.95 1018.54 550.28 1017.78 550.73 1017.01 552.41 1014.71 553.33 1013.18 554.97 1009.35 555.39 1007.82 555.48 1007.05 555.52 1002.46Z" fill="#C2EEEF" stroke="#1E1E1E" stroke-width="2.25" stroke-linejoin="round"/>
<path d="M113.10 1054.50 174.41 1032.20 235.72 1015.50 297.03 1001.20 358.34 988.50 419.65 979.70 480.96 973.30 542.27 971.40" fill="none" stroke="#F26A62" stroke-opacity="0.85" stroke-width="4.3" stroke-linejoin="round"/>
<path d="M113.10 1058.50 174.41 1044.90 235.72 1033.00 297.03 1025.80 358.34 1027.10 419.65 1025.50 480.96 1025.80 542.27 1022.30" fill="none" stroke="#1FB9BE" stroke-opacity="0.85" stroke-width="4.3" stroke-linejoin="round"/>
<path d="M671.75 1200.2H1174.35M671.75 1145.6H1174.35M671.75 1091H1174.35M671.75 1036.4H1174.35M671.75 981.8H1174.35M671.75 1172.9H1174.35M671.75 1118.3H1174.35M671.75 1063.7H1174.35M671.75 1009.1H1174.35M671.75 954.5H1174.35" stroke="#B3B3B3" stroke-opacity="0.5" stroke-width="1.4" fill="none"/>
<path d="M708.55 942.5V1210.3M769.86 942.5V1210.3M831.17 942.5V1210.3M892.48 942.5V1210.3M953.79 942.5V1210.3M1015.1 942.5V1210.3M1076.41 942.5V1210.3M1137.72 942.5V1210.3" stroke="#B3B3B3" stroke-opacity="0.5" stroke-width="1.4" fill="none"/>
<text transform="translate(627.15 1181.65) scale(0.81 1)" font-size="24.27" fill="#303030">0.96</text>
<text transform="translate(627.28 1127.05) scale(0.81 1)" font-size="24.27" fill="#303030">0.97</text>
<text transform="translate(627.14 1072.45) scale(0.81 1)" font-size="24.27" fill="#303030">0.98</text>
<text transform="translate(627.22 1017.85) scale(0.81 1)" font-size="24.27" fill="#303030">0.99</text>
<text transform="translate(627.06 963.25) scale(0.81 1)" font-size="24.27" fill="#303030">1.00</text>
<text transform="translate(702.58 1233.7) scale(0.81 1)" font-size="24.27" fill="#303030">1</text>
<text transform="translate(763.89 1233.7) scale(0.81 1)" font-size="24.27" fill="#303030">2</text>
<text transform="translate(825.2 1233.7) scale(0.81 1)" font-size="24.27" fill="#303030">3</text>
<text transform="translate(886.51 1233.7) scale(0.81 1)" font-size="24.27" fill="#303030">4</text>
<text transform="translate(947.82 1233.7) scale(0.81 1)" font-size="24.27" fill="#303030">5</text>
<text transform="translate(1009.13 1233.7) scale(0.81 1)" font-size="24.27" fill="#303030">6</text>
<text transform="translate(1070.44 1233.7) scale(0.81 1)" font-size="24.27" fill="#303030">7</text>
<text transform="translate(1131.75 1233.7) scale(0.81 1)" font-size="24.27" fill="#303030">8</text>
<text transform="translate(885.13 1253.3) scale(0.832 1)" font-size="18.38" font-weight="bold" fill="#000">Effect size</text>
<text transform="translate(621.36 1087.09) rotate(-90) scale(0.785 1)" font-size="19.63" font-weight="bold" fill="#000">SP</text>
<text transform="translate(883.15 921.9) scale(0.83 1)" font-size="36.36" font-weight="bold" fill="#000">Bi-2C</text>
<rect x="802.6" y="1277.95" width="32.7" height="32.6" fill="#FBD6D3" stroke="#222" stroke-width="1.9"/>
<path d="M804.95 1294.3H833.35" stroke="#F26A62" stroke-width="4.2"/>
<text transform="translate(848.66 1301.1) scale(0.866 1)" font-size="17.97" fill="#1A1A1A">CellDMC</text>
<rect x="927.4" y="1277.95" width="32.7" height="32.6" fill="#C2EEEF" stroke="#222" stroke-width="1.9"/>
<path d="M929.75 1294.3H958.15" stroke="#1FB9BE" stroke-width="4.2"/>
<text transform="translate(973.4 1301.1) scale(0.866 1)" font-size="17.97" fill="#1A1A1A">TCA (Y|X)</text>
<text transform="translate(601.15 925.6) scale(1 1)" font-size="38.81" font-weight="bold" fill="#000">H</text>
<path d="M696.57 964.93 698.16 967.94 700.35 972.45 701.63 975.46 702.01 976.97 702.57 979.98 702.81 982.99 702.69 984.49 702.40 986.00 700.23 993.52 698.36 998.79 696.19 1003.31 695.73 1004.81 695.44 1007.82 695.31 1010.83 695.30 1026.64 694.20 1026.64 694.19 1010.83 694.06 1007.82 693.77 1004.81 693.31 1003.31 691.14 998.79 689.27 993.52 687.10 986.00 686.81 984.49 686.69 982.99 686.93 979.98 687.49 976.97 687.87 975.46 689.15 972.45 691.34 967.94 692.93 964.93ZM756.61 971.29 757.49 975.82 758.59 980.35 760.71 986.38 761.33 988.65 762.04 993.17 762.33 996.94 762.18 1002.23 761.97 1005.24 761.78 1006.75 761.28 1009.02 759.97 1013.54 757.99 1021.09 757.50 1023.35 756.90 1027.12 756.62 1030.14 756.61 1036.18 755.51 1036.18 755.50 1030.14 755.22 1027.12 754.62 1023.35 754.13 1021.09 752.15 1013.54 750.84 1009.02 750.34 1006.75 750.15 1005.24 749.94 1002.23 749.79 996.94 750.08 993.17 750.79 988.65 751.41 986.38 753.53 980.35 754.63 975.82 755.51 971.29ZM817.92 994.04 819.63 997.81 820.36 1000.07 821.18 1003.84 821.56 1006.10 821.81 1008.36 821.86 1009.87 821.79 1012.88 821.24 1023.43 820.92 1027.96 820.44 1030.97 818.30 1041.53 818.00 1043.79 817.92 1066.40 816.82 1066.40 816.74 1043.79 816.44 1041.53 814.30 1030.97 813.82 1027.96 813.50 1023.43 812.95 1012.88 812.88 1009.87 812.93 1008.36 813.18 1006.10 813.56 1003.84 814.38 1000.07 815.11 997.81 816.82 994.04ZM879.23 999.29 880.04 1009.05 881.31 1017.32 881.68 1020.33 882.14 1026.34 882.28 1030.84 882.27 1044.37 882.02 1049.63 881.60 1054.14 880.07 1061.65 879.49 1066.91 879.25 1070.67 879.23 1116.50 878.13 1116.50 878.11 1070.67 877.87 1066.91 877.29 1061.65 875.76 1054.14 875.34 1049.63 875.09 1044.37 875.08 1030.84 875.22 1026.34 875.68 1020.33 876.05 1017.32 877.32 1009.05 878.13 999.29ZM940.54 1010.41 941.34 1021.71 942.48 1031.50 943.26 1039.79 943.52 1043.56 943.59 1046.57 943.59 1060.13 943.36 1066.92 942.78 1075.20 940.68 1091.78 940.57 1094.04 940.54 1105.34 939.44 1105.34 939.41 1094.04 939.30 1091.78 937.20 1075.20 936.62 1066.92 936.39 1060.13 936.39 1046.57 936.46 1043.56 936.72 1039.79 937.50 1031.50 938.64 1021.71 939.44 1010.41ZM1001.85 1006.27 1001.93 1016.03 1002.17 1018.28 1003.24 1024.28 1003.64 1027.28 1004.00 1032.53 1004.73 1046.79 1004.90 1052.79 1004.71 1059.54 1004.09 1069.30 1003.12 1078.30 1002.18 1084.30 1001.89 1087.30 1001.85 1118.06 1000.75 1118.06 1000.71 1087.30 1000.42 1084.30 999.48 1078.30 998.51 1069.30 997.89 1059.54 997.70 1052.79 997.87 1046.79 998.60 1032.53 998.96 1027.28 999.36 1024.28 1000.43 1018.28 1000.67 1016.03 1000.75 1006.27ZM1063.16 994.50 1063.16 1003.56 1063.25 1006.58 1064.94 1026.94 1065.54 1037.51 1065.68 1043.54 1064.93 1075.98 1063.20 1101.63 1063.16 1121.24 1062.06 1121.24 1062.02 1101.63 1060.29 1075.98 1059.54 1043.54 1059.68 1037.51 1060.28 1026.94 1061.97 1006.58 1062.06 1003.56 1062.06 994.50ZM1124.47 1010.73 1126.25 1030.30 1126.84 1038.58 1126.99 1043.85 1126.97 1061.91 1126.61 1072.45 1126.34 1075.46 1125.29 1083.74 1124.70 1090.52 1124.49 1094.28 1124.47 1137.94 1123.37 1137.94 1123.35 1094.28 1123.14 1090.52 1122.55 1083.74 1121.50 1075.46 1121.23 1072.45 1120.87 1061.91 1120.85 1043.85 1121.00 1038.58 1121.59 1030.30 1123.37 1010.73Z" fill="#FBD6D3" stroke="#1E1E1E" stroke-width="2.25" stroke-linejoin="round"/>
<path d="M724.17 960.64 727.05 962.17 729.38 963.70 732.01 966.01 733.35 967.54 733.83 968.31 734.18 969.07 735.25 972.91 736.57 975.98 736.59 976.75 735.75 977.51 732.53 979.05 731.15 979.82 726.79 982.88 725.13 984.42 723.74 985.95 723.19 986.72 722.91 987.49 722.90 991.32 721.80 991.32 721.79 987.49 721.51 986.72 720.96 985.95 719.57 984.42 717.91 982.88 713.55 979.82 712.17 979.05 708.95 977.51 708.11 976.75 708.13 975.98 709.45 972.91 710.52 969.07 710.87 968.31 711.35 967.54 712.69 966.01 715.32 963.70 717.65 962.17 720.53 960.64ZM785.48 965.41 787.78 968.45 788.72 969.97 789.47 971.49 790.63 974.53 791.33 976.82 791.62 978.34 791.72 979.86 791.62 981.38 791.25 983.66 789.92 988.98 789.06 991.27 785.62 999.63 784.96 1001.91 784.47 1004.96 784.24 1007.24 784.21 1017.89 783.11 1017.89 783.08 1007.24 782.85 1004.96 782.36 1001.91 781.70 999.63 778.26 991.27 777.40 988.98 776.07 983.66 775.70 981.38 775.60 979.86 775.70 978.34 775.99 976.82 776.69 974.53 777.85 971.49 778.60 969.97 779.54 968.45 781.84 965.41ZM845.55 971.29 847.51 976.58 850.22 984.88 850.78 987.15 851.38 990.17 851.60 992.43 851.52 993.94 851.32 995.45 848.93 1008.29 848.43 1010.55 847.11 1015.08 846.13 1018.85 845.64 1021.12 845.52 1022.63 845.52 1036.97 844.42 1036.97 844.42 1022.63 844.30 1021.12 843.81 1018.85 842.83 1015.08 841.51 1010.55 841.01 1008.29 838.62 995.45 838.42 993.94 838.34 992.43 838.56 990.17 839.16 987.15 839.72 984.88 842.43 976.58 844.39 971.29ZM908.10 975.75 909.04 978.00 909.84 980.26 910.36 982.52 910.64 984.78 910.93 987.79 911.10 990.80 911.12 1002.84 910.84 1007.36 909.90 1015.63 908.88 1021.65 907.39 1027.68 907.14 1029.93 906.84 1035.95 906.83 1060.04 905.73 1060.04 905.72 1035.95 905.42 1029.93 905.17 1027.68 903.68 1021.65 902.66 1015.63 901.72 1007.36 901.44 1002.84 901.46 990.80 901.63 987.79 901.92 984.78 902.20 982.52 902.72 980.26 903.52 978.00 904.46 975.75ZM968.88 979.71 969.66 982.72 970.13 984.97 971.00 991.74 971.18 994.74 971.19 1003.76 970.68 1013.52 970.64 1024.79 970.23 1027.05 968.98 1031.56 968.42 1036.06 968.16 1039.82 967.02 1039.82 966.76 1036.06 966.20 1031.56 964.95 1027.05 964.54 1024.79 964.50 1013.52 963.99 1003.76 964.00 994.74 964.18 991.74 965.05 984.97 965.52 982.72 966.30 979.71ZM1029.47 971.92 1030.81 980.21 1032.09 986.24 1032.43 988.50 1032.90 995.29 1033.04 1000.56 1032.82 1006.59 1031.98 1018.65 1031.47 1023.92 1030.27 1032.97 1029.57 1040.50 1029.47 1043.52 1029.45 1061.61 1028.35 1061.61 1028.33 1043.52 1028.23 1040.50 1027.53 1032.97 1026.33 1023.92 1025.82 1018.65 1024.98 1006.59 1024.76 1000.56 1024.90 995.29 1025.37 988.50 1025.71 986.24 1026.99 980.21 1028.33 971.92ZM1091.14 974.15 1092.62 983.19 1094.32 992.23 1095.29 999.01 1095.51 1001.26 1095.59 1003.52 1095.52 1005.03 1095.32 1006.54 1092.71 1020.10 1092.01 1025.37 1091.55 1029.89 1091.03 1036.67 1090.79 1041.19 1090.76 1060.02 1089.66 1060.02 1089.63 1041.19 1089.39 1036.67 1088.87 1029.89 1088.41 1025.37 1087.71 1020.10 1085.10 1006.54 1084.90 1005.03 1084.83 1003.52 1084.91 1001.26 1085.13 999.01 1086.10 992.23 1087.80 983.19 1089.28 974.15ZM1153.88 982.42 1154.74 985.43 1155.13 987.69 1155.53 993.71 1155.66 998.97 1155.52 1001.23 1154.78 1006.50 1154.56 1008.75 1153.79 1022.30 1152.16 1044.12 1152.08 1052.40 1152.07 1086.26 1150.97 1086.26 1150.96 1052.40 1150.88 1044.12 1149.25 1022.30 1148.48 1008.75 1148.26 1006.50 1147.52 1001.23 1147.38 998.97 1147.51 993.71 1147.91 987.69 1148.30 985.43 1149.16 982.42Z" fill="#C2EEEF" stroke="#1E1E1E" stroke-width="2.25" stroke-linejoin="round"/>
<path d="M708.55 986.10 769.86 1000.40 831.17 1021.90 892.48 1040.20 953.79 1055.70 1015.10 1057.30 1076.41 1063.20 1137.72 1063.20" fill="none" stroke="#F26A62" stroke-opacity="0.85" stroke-width="4.3" stroke-linejoin="round"/>
<path d="M708.55 973.70 769.86 982.90 831.17 995.30 892.48 999.60 953.79 1008.00 1015.10 1011.20 1076.41 1009.10 1137.72 1013.60" fill="none" stroke="#1FB9BE" stroke-opacity="0.85" stroke-width="4.3" stroke-linejoin="round"/>
<path d="M1267.2 1167.95H1769.8M1267.2 1106.95H1769.8M1267.2 1045.95H1769.8M1267.2 984.95H1769.8M1267.2 1198.45H1769.8M1267.2 1137.45H1769.8M1267.2 1076.45H1769.8M1267.2 1015.45H1769.8M1267.2 954.45H1769.8" stroke="#B3B3B3" stroke-opacity="0.5" stroke-width="1.4" fill="none"/>
<path d="M1304 942.5V1210.3M1365.31 942.5V1210.3M1426.62 942.5V1210.3M1487.93 942.5V1210.3M1549.24 942.5V1210.3M1610.55 942.5V1210.3M1671.86 942.5V1210.3M1733.17 942.5V1210.3" stroke="#B3B3B3" stroke-opacity="0.5" stroke-width="1.4" fill="none"/>
<text transform="translate(1222.51 1207.2) scale(0.81 1)" font-size="24.27" fill="#303030">0.00</text>
<text transform="translate(1222.56 1146.2) scale(0.81 1)" font-size="24.27" fill="#303030">0.25</text>
<text transform="translate(1222.51 1085.2) scale(0.81 1)" font-size="24.27" fill="#303030">0.50</text>
<text transform="translate(1222.56 1024.2) scale(0.81 1)" font-size="24.27" fill="#303030">0.75</text>
<text transform="translate(1222.51 963.2) scale(0.81 1)" font-size="24.27" fill="#303030">1.00</text>
<text transform="translate(1298.03 1233.7) scale(0.81 1)" font-size="24.27" fill="#303030">1</text>
<text transform="translate(1359.34 1233.7) scale(0.81 1)" font-size="24.27" fill="#303030">2</text>
<text transform="translate(1420.65 1233.7) scale(0.81 1)" font-size="24.27" fill="#303030">3</text>
<text transform="translate(1481.96 1233.7) scale(0.81 1)" font-size="24.27" fill="#303030">4</text>
<text transform="translate(1543.27 1233.7) scale(0.81 1)" font-size="24.27" fill="#303030">5</text>
<text transform="translate(1604.58 1233.7) scale(0.81 1)" font-size="24.27" fill="#303030">6</text>
<text transform="translate(1665.89 1233.7) scale(0.81 1)" font-size="24.27" fill="#303030">7</text>
<text transform="translate(1727.2 1233.7) scale(0.81 1)" font-size="24.27" fill="#303030">8</text>
<text transform="translate(1480.58 1253.3) scale(0.832 1)" font-size="18.38" font-weight="bold" fill="#000">Effect size</text>
<text transform="translate(1216.61 1092.28) rotate(-90) scale(0.785 1)" font-size="19.63" font-weight="bold" fill="#000">PPV</text>
<text transform="translate(1478.6 921.9) scale(0.83 1)" font-size="36.36" font-weight="bold" fill="#000">Bi-2C</text>
<rect x="1398.05" y="1277.95" width="32.7" height="32.6" fill="#FBD6D3" stroke="#222" stroke-width="1.9"/>
<path d="M1400.4 1294.3H1428.8" stroke="#F26A62" stroke-width="4.2"/>
<text transform="translate(1444.11 1301.1) scale(0.866 1)" font-size="17.97" fill="#1A1A1A">CellDMC</text>
<rect x="1522.85" y="1277.95" width="32.7" height="32.6" fill="#C2EEEF" stroke="#222" stroke-width="1.9"/>
<path d="M1525.2 1294.3H1553.6" stroke="#1FB9BE" stroke-width="4.2"/>
<text transform="translate(1568.85 1301.1) scale(0.866 1)" font-size="17.97" fill="#1A1A1A">TCA (Y|X)</text>
<text transform="translate(1199.6 925.6) scale(1 1)" font-size="38.81" font-weight="bold" fill="#000">I</text>
<path d="M1291.49 983.38 1294.16 993.89 1299.95 1017.91 1300.25 1019.42 1300.39 1020.92 1300.32 1022.42 1299.91 1024.67 1298.43 1029.93 1292.84 1053.20 1291.56 1057.70 1291.03 1059.95 1290.78 1062.21 1290.75 1071.97 1289.65 1071.97 1289.62 1062.21 1289.37 1059.95 1288.84 1057.70 1287.56 1053.20 1281.97 1029.93 1280.49 1024.67 1280.08 1022.42 1280.01 1020.92 1280.15 1019.42 1280.45 1017.91 1286.24 993.89 1288.91 983.38ZM1352.06 991.65 1352.14 994.67 1352.34 997.68 1352.49 999.19 1352.82 1000.69 1355.10 1006.72 1357.86 1016.52 1358.48 1018.02 1360.81 1022.55 1361.49 1024.05 1361.99 1025.56 1362.23 1027.07 1362.18 1039.88 1361.83 1045.15 1361.45 1048.16 1360.82 1050.43 1360.00 1052.69 1358.22 1057.21 1355.13 1063.99 1353.33 1069.26 1349.69 1069.26 1347.89 1063.99 1344.80 1057.21 1343.02 1052.69 1342.20 1050.43 1341.57 1048.16 1341.19 1045.15 1340.84 1039.88 1340.79 1027.07 1341.03 1025.56 1341.53 1024.05 1342.21 1022.55 1344.54 1018.02 1345.16 1016.52 1347.92 1006.72 1350.20 1000.69 1350.53 999.19 1350.68 997.68 1350.88 994.67 1350.96 991.65ZM1414.64 1024.58 1418.21 1030.62 1419.27 1032.13 1422.94 1036.66 1423.86 1038.17 1424.18 1038.93 1424.38 1039.68 1424.56 1041.95 1424.80 1049.50 1424.66 1051.77 1424.28 1054.04 1422.62 1060.84 1421.74 1063.86 1419.84 1069.15 1419.09 1070.66 1416.91 1074.43 1416.18 1075.94 1415.24 1078.97 1414.64 1081.99 1411.00 1081.99 1410.40 1078.97 1409.46 1075.94 1408.73 1074.43 1406.55 1070.66 1405.80 1069.15 1403.90 1063.86 1403.02 1060.84 1401.36 1054.04 1400.98 1051.77 1400.84 1049.50 1401.08 1041.95 1401.26 1039.68 1401.46 1038.93 1401.78 1038.17 1402.70 1036.66 1406.37 1032.13 1407.43 1030.62 1411.00 1024.58ZM1475.42 1027.76 1476.65 1030.78 1477.74 1033.80 1478.65 1036.83 1480.49 1043.63 1482.35 1048.92 1482.92 1051.19 1483.08 1052.70 1483.03 1054.21 1482.24 1061.01 1482.19 1062.53 1482.29 1063.28 1482.52 1064.04 1483.31 1065.55 1485.35 1068.57 1486.19 1070.08 1486.47 1070.84 1486.62 1071.60 1486.63 1072.35 1486.52 1073.11 1486.03 1074.62 1484.86 1076.89 1482.18 1081.42 1478.43 1086.71 1475.29 1092.00 1474.78 1093.52 1474.70 1094.27 1474.68 1101.07 1473.58 1101.07 1473.56 1094.27 1473.48 1093.52 1472.97 1092.00 1469.83 1086.71 1466.08 1081.42 1463.40 1076.89 1462.23 1074.62 1461.74 1073.11 1461.63 1072.35 1461.64 1071.60 1461.79 1070.84 1462.07 1070.08 1462.91 1068.57 1464.95 1065.55 1465.74 1064.04 1465.97 1063.28 1466.07 1062.53 1466.02 1061.01 1465.23 1054.21 1465.18 1052.70 1465.34 1051.19 1465.91 1048.92 1467.77 1043.63 1469.61 1036.83 1470.52 1033.80 1471.61 1030.78 1472.84 1027.76ZM1538.15 1037.44 1538.47 1040.47 1539.30 1044.26 1539.91 1045.77 1542.20 1050.32 1544.10 1054.86 1544.90 1057.14 1545.29 1059.41 1545.69 1069.25 1546.07 1070.77 1547.56 1074.56 1547.91 1076.07 1547.95 1076.83 1547.77 1078.34 1547.35 1079.86 1546.75 1081.37 1544.70 1085.92 1543.45 1088.19 1541.60 1091.22 1539.04 1095.00 1531.84 1095.00 1529.28 1091.22 1527.43 1088.19 1526.18 1085.92 1524.13 1081.37 1523.53 1079.86 1523.11 1078.34 1522.93 1076.83 1522.97 1076.07 1523.32 1074.56 1524.81 1070.77 1525.19 1069.25 1525.59 1059.41 1525.98 1057.14 1526.78 1054.86 1528.68 1050.32 1530.97 1045.77 1531.58 1044.26 1532.41 1040.47 1532.73 1037.44ZM1598.57 1028.70 1598.57 1033.97 1598.68 1036.23 1599.16 1039.99 1599.79 1043.00 1600.74 1045.26 1603.83 1051.29 1606.31 1055.81 1606.96 1057.31 1607.40 1058.82 1607.80 1061.83 1608.35 1068.61 1609.07 1073.88 1609.25 1076.14 1609.17 1077.64 1608.99 1078.40 1608.00 1080.65 1606.24 1083.67 1604.29 1087.43 1603.01 1089.69 1601.45 1091.95 1599.46 1094.21 1594.04 1094.21 1592.05 1091.95 1590.49 1089.69 1589.21 1087.43 1587.26 1083.67 1585.50 1080.65 1584.51 1078.40 1584.33 1077.64 1584.25 1076.14 1584.43 1073.88 1585.15 1068.61 1585.70 1061.83 1586.10 1058.82 1586.54 1057.31 1587.19 1055.81 1589.67 1051.29 1592.76 1045.26 1593.71 1043.00 1594.34 1039.99 1594.82 1036.23 1594.93 1033.97 1594.93 1028.70ZM1658.61 1016.29 1658.64 1024.59 1658.95 1026.86 1660.54 1032.89 1663.90 1041.95 1665.65 1047.98 1667.29 1054.78 1668.36 1060.06 1668.76 1063.08 1668.77 1075.90 1668.63 1077.41 1668.23 1079.68 1666.34 1087.22 1665.06 1090.99 1663.99 1093.26 1662.92 1094.77 1661.66 1096.28 1654.46 1096.28 1653.20 1094.77 1652.13 1093.26 1651.06 1090.99 1649.78 1087.22 1647.89 1079.68 1647.49 1077.41 1647.35 1075.90 1647.36 1063.08 1647.76 1060.06 1648.83 1054.78 1650.47 1047.98 1652.22 1041.95 1655.58 1032.89 1657.17 1026.86 1657.48 1024.59 1657.51 1016.29ZM1720.66 1032.67 1723.81 1040.93 1726.02 1046.18 1726.96 1049.18 1727.49 1052.18 1727.88 1055.18 1729.20 1068.69 1729.61 1070.19 1730.62 1072.44 1731.18 1073.94 1731.32 1074.69 1731.33 1075.44 1731.23 1076.20 1730.76 1077.70 1728.87 1081.45 1728.01 1082.95 1724.97 1087.45 1722.70 1091.95 1722.21 1093.45 1722.08 1094.20 1721.80 1097.21 1721.73 1099.46 1717.01 1099.46 1716.94 1097.21 1716.66 1094.20 1716.53 1093.45 1716.04 1091.95 1713.77 1087.45 1710.73 1082.95 1709.87 1081.45 1707.98 1077.70 1707.51 1076.20 1707.41 1075.44 1707.42 1074.69 1707.56 1073.94 1708.12 1072.44 1709.13 1070.19 1709.54 1068.69 1710.86 1055.18 1711.25 1052.18 1711.78 1049.18 1712.72 1046.18 1714.93 1040.93 1718.08 1032.67Z" fill="#FBD6D3" stroke="#1E1E1E" stroke-width="2.25" stroke-linejoin="round"/>
<path d="M1319.09 972.56 1320.52 976.35 1322.13 980.14 1325.49 986.20 1326.50 988.47 1327.26 991.50 1328.59 999.07 1329.04 1000.59 1330.66 1005.13 1331.03 1006.64 1331.20 1008.16 1331.11 1009.67 1330.63 1011.94 1329.93 1014.22 1329.18 1015.73 1328.25 1017.25 1326.17 1020.28 1322.20 1024.82 1319.19 1028.61 1318.72 1029.36 1318.44 1030.12 1318.37 1030.88 1318.35 1036.18 1317.25 1036.18 1317.23 1030.88 1317.16 1030.12 1316.88 1029.36 1316.41 1028.61 1313.40 1024.82 1309.43 1020.28 1307.35 1017.25 1306.42 1015.73 1305.67 1014.22 1304.97 1011.94 1304.49 1009.67 1304.40 1008.16 1304.57 1006.64 1304.94 1005.13 1306.56 1000.59 1307.01 999.07 1308.34 991.50 1309.10 988.47 1310.11 986.20 1313.47 980.14 1315.08 976.35 1316.51 972.56ZM1380.40 980.99 1382.75 987.78 1386.38 999.09 1388.83 1004.37 1389.62 1006.63 1389.84 1008.14 1389.84 1017.94 1389.76 1019.45 1389.42 1021.71 1387.42 1030.00 1382.69 1046.59 1380.63 1051.87 1379.92 1054.13 1379.70 1055.64 1379.66 1062.42 1378.56 1062.42 1378.52 1055.64 1378.30 1054.13 1377.59 1051.87 1375.53 1046.59 1370.80 1030.00 1368.80 1021.71 1368.46 1019.45 1368.38 1017.94 1368.38 1008.14 1368.60 1006.63 1369.39 1004.37 1371.84 999.09 1375.47 987.78 1377.82 980.99ZM1441.71 992.92 1442.75 996.68 1444.04 1000.43 1445.02 1002.68 1447.82 1007.94 1448.88 1010.19 1451.11 1016.95 1451.66 1019.20 1451.99 1021.45 1452.04 1030.46 1451.95 1031.96 1451.46 1034.21 1448.32 1043.22 1445.69 1049.97 1443.41 1054.48 1442.48 1056.73 1441.99 1058.98 1441.38 1062.74 1441.07 1065.74 1441.00 1067.99 1439.84 1067.99 1439.77 1065.74 1439.46 1062.74 1438.85 1058.98 1438.36 1056.73 1437.43 1054.48 1435.15 1049.97 1432.52 1043.22 1429.38 1034.21 1428.89 1031.96 1428.80 1030.46 1428.85 1021.45 1429.18 1019.20 1429.73 1016.95 1431.96 1010.19 1433.02 1007.94 1435.82 1002.68 1436.80 1000.43 1438.09 996.68 1439.13 992.92ZM1503.55 1000.88 1505.44 1004.65 1507.48 1009.17 1509.65 1013.69 1510.22 1015.20 1510.58 1016.71 1510.68 1018.22 1510.67 1028.02 1510.49 1030.28 1509.90 1034.81 1509.79 1037.07 1509.85 1037.82 1510.19 1039.33 1512.18 1044.61 1512.45 1046.12 1512.45 1046.87 1512.38 1047.62 1512.04 1049.13 1511.17 1051.39 1508.21 1057.42 1505.48 1061.95 1504.69 1063.46 1503.04 1067.23 1502.53 1068.73 1502.31 1070.24 1502.28 1082.31 1501.18 1082.31 1501.15 1070.24 1500.93 1068.73 1500.42 1067.23 1498.77 1063.46 1497.98 1061.95 1495.25 1057.42 1492.29 1051.39 1491.42 1049.13 1491.08 1047.62 1491.01 1046.87 1491.01 1046.12 1491.28 1044.61 1493.27 1039.33 1493.61 1037.82 1493.67 1037.07 1493.56 1034.81 1492.97 1030.28 1492.79 1028.02 1492.78 1018.22 1492.88 1016.71 1493.24 1015.20 1493.81 1013.69 1495.98 1009.17 1498.02 1004.65 1499.91 1000.88ZM1565.40 1006.75 1567.62 1015.03 1569.85 1022.55 1570.43 1025.56 1570.99 1029.32 1571.46 1033.83 1571.95 1041.36 1571.98 1059.41 1571.93 1060.16 1571.62 1061.67 1569.96 1066.18 1569.21 1067.69 1566.93 1071.45 1563.97 1076.72 1562.11 1076.72 1559.15 1071.45 1556.87 1067.69 1556.12 1066.18 1554.46 1061.67 1554.15 1060.16 1554.10 1059.41 1554.13 1041.36 1554.62 1033.83 1555.09 1029.32 1555.65 1025.56 1556.23 1022.55 1558.46 1015.03 1560.68 1006.75ZM1624.90 992.44 1625.06 996.21 1625.47 999.99 1626.15 1002.26 1627.98 1006.79 1628.48 1008.30 1630.38 1015.10 1631.33 1019.63 1631.75 1023.41 1632.09 1027.94 1632.76 1042.29 1632.72 1044.55 1632.50 1046.82 1630.60 1058.91 1629.56 1064.95 1627.48 1074.77 1626.17 1083.08 1622.53 1083.08 1621.22 1074.77 1619.14 1064.95 1618.10 1058.91 1616.20 1046.82 1615.98 1044.55 1615.94 1042.29 1616.61 1027.94 1616.95 1023.41 1617.37 1019.63 1618.32 1015.10 1620.22 1008.30 1620.72 1006.79 1622.55 1002.26 1623.23 999.99 1623.64 996.21 1623.80 992.44ZM1686.59 996.41 1687.05 1000.93 1687.55 1003.93 1687.90 1005.44 1688.58 1007.69 1690.73 1013.71 1692.89 1020.48 1693.77 1023.49 1694.31 1025.74 1694.91 1029.51 1695.49 1034.02 1695.75 1037.03 1695.85 1040.03 1695.64 1046.05 1695.48 1048.31 1695.25 1049.81 1694.66 1052.07 1692.91 1057.33 1690.40 1066.36 1688.81 1073.13 1687.48 1079.90 1683.84 1079.90 1682.51 1073.13 1680.92 1066.36 1678.41 1057.33 1676.66 1052.07 1676.07 1049.81 1675.84 1048.31 1675.68 1046.05 1675.47 1040.03 1675.57 1037.03 1675.83 1034.02 1676.41 1029.51 1677.01 1025.74 1677.55 1023.49 1678.43 1020.48 1680.59 1013.71 1682.74 1007.69 1683.42 1005.44 1683.77 1003.93 1684.27 1000.93 1684.73 996.41ZM1749.68 1007.23 1751.28 1011.00 1752.21 1014.03 1753.00 1018.56 1753.50 1023.09 1754.01 1029.89 1754.14 1033.66 1754.02 1035.93 1753.36 1041.22 1753.26 1044.24 1753.45 1047.26 1754.03 1053.30 1754.12 1057.08 1753.76 1061.61 1752.90 1067.65 1749.04 1083.51 1748.29 1087.29 1747.54 1091.82 1746.40 1091.82 1745.65 1087.29 1744.90 1083.51 1741.04 1067.65 1740.18 1061.61 1739.82 1057.08 1739.91 1053.30 1740.49 1047.26 1740.68 1044.24 1740.58 1041.22 1739.92 1035.93 1739.80 1033.66 1739.93 1029.89 1740.44 1023.09 1740.94 1018.56 1741.73 1014.03 1742.66 1011.00 1744.26 1007.23Z" fill="#C2EEEF" stroke="#1E1E1E" stroke-width="2.25" stroke-linejoin="round"/>
<path d="M1304.00 1022.30 1365.31 1033.80 1426.62 1051.30 1487.93 1060.80 1549.24 1069.10 1610.55 1068.00 1671.86 1068.00 1733.17 1068.00" fill="none" stroke="#F26A62" stroke-opacity="0.85" stroke-width="4.3" stroke-linejoin="round"/>
<path d="M1304.00 1003.60 1365.31 1016.30 1426.62 1029.00 1487.93 1035.40 1549.24 1043.30 1610.55 1044.10 1671.86 1042.50 1733.17 1045.20" fill="none" stroke="#1FB9BE" stroke-opacity="0.85" stroke-width="4.3" stroke-linejoin="round"/>
<path d="M76.3 1611.97H578.9M76.3 1546.42H578.9M76.3 1480.87H578.9M76.3 1415.32H578.9M76.3 1644.75H578.9M76.3 1579.2H578.9M76.3 1513.65H578.9M76.3 1448.1H578.9" stroke="#B3B3B3" stroke-opacity="0.5" stroke-width="1.4" fill="none"/>
<path d="M113.1 1388.9V1656.7M174.41 1388.9V1656.7M235.72 1388.9V1656.7M297.03 1388.9V1656.7M358.34 1388.9V1656.7M419.65 1388.9V1656.7M480.96 1388.9V1656.7M542.27 1388.9V1656.7" stroke="#B3B3B3" stroke-opacity="0.5" stroke-width="1.4" fill="none"/>
<text transform="translate(31.61 1653.5) scale(0.81 1)" font-size="24.27" fill="#303030">0.00</text>
<text transform="translate(31.66 1587.95) scale(0.81 1)" font-size="24.27" fill="#303030">0.25</text>
<text transform="translate(31.61 1522.4) scale(0.81 1)" font-size="24.27" fill="#303030">0.50</text>
<text transform="translate(31.66 1456.85) scale(0.81 1)" font-size="24.27" fill="#303030">0.75</text>
<text transform="translate(107.13 1680.1) scale(0.81 1)" font-size="24.27" fill="#303030">1</text>
<text transform="translate(168.44 1680.1) scale(0.81 1)" font-size="24.27" fill="#303030">2</text>
<text transform="translate(229.75 1680.1) scale(0.81 1)" font-size="24.27" fill="#303030">3</text>
<text transform="translate(291.06 1680.1) scale(0.81 1)" font-size="24.27" fill="#303030">4</text>
<text transform="translate(352.37 1680.1) scale(0.81 1)" font-size="24.27" fill="#303030">5</text>
<text transform="translate(413.68 1680.1) scale(0.81 1)" font-size="24.27" fill="#303030">6</text>
<text transform="translate(474.99 1680.1) scale(0.81 1)" font-size="24.27" fill="#303030">7</text>
<text transform="translate(536.3 1680.1) scale(0.81 1)" font-size="24.27" fill="#303030">8</text>
<text transform="translate(289.68 1699.7) scale(0.832 1)" font-size="18.38" font-weight="bold" fill="#000">Effect size</text>
<text transform="translate(25.91 1533.45) rotate(-90) scale(0.785 1)" font-size="19.63" font-weight="bold" fill="#000">SE</text>
<text transform="translate(287.7 1368.3) scale(0.83 1)" font-size="36.36" font-weight="bold" fill="#000">Bi-3C</text>
<rect x="207.15" y="1724.35" width="32.7" height="32.6" fill="#FBD6D3" stroke="#222" stroke-width="1.9"/>
<path d="M209.5 1740.7H237.9" stroke="#F26A62" stroke-width="4.2"/>
<text transform="translate(253.21 1747.5) scale(0.866 1)" font-size="17.97" fill="#1A1A1A">CellDMC</text>
<rect x="331.95" y="1724.35" width="32.7" height="32.6" fill="#C2EEEF" stroke="#222" stroke-width="1.9"/>
<path d="M334.3 1740.7H362.7" stroke="#1FB9BE" stroke-width="4.2"/>
<text transform="translate(377.95 1747.5) scale(0.866 1)" font-size="17.97" fill="#1A1A1A">TCA (Y|X)</text>
<text transform="translate(2.19 1365.71) scale(1 1)" font-size="40.13" font-weight="bold" fill="#000">J</text>
<path d="M99.88 1492.53 100.41 1494.03 101.40 1496.29 102.57 1498.55 103.51 1500.06 104.04 1500.81 105.38 1502.32 108.32 1505.33 109.93 1506.84 110.61 1507.59 110.92 1508.34 110.50 1509.10 106.72 1511.36 105.49 1512.86 105.02 1513.62 104.73 1514.37 104.68 1518.14 104.48 1518.89 104.08 1519.64 102.90 1521.15 95.70 1521.15 94.52 1519.64 94.12 1518.89 93.92 1518.14 93.87 1514.37 93.58 1513.62 93.11 1512.86 91.88 1511.36 88.10 1509.10 87.68 1508.34 87.99 1507.59 88.67 1506.84 90.28 1505.33 93.22 1502.32 94.56 1500.81 95.09 1500.06 96.03 1498.55 97.20 1496.29 98.19 1494.03 98.72 1492.53ZM161.19 1479.32 161.26 1480.08 161.74 1481.59 162.50 1483.10 163.12 1483.85 163.97 1484.60 167.97 1487.62 171.32 1489.88 173.98 1491.39 174.79 1492.15 174.87 1492.90 174.61 1493.65 174.16 1494.41 172.40 1496.67 171.54 1497.43 169.79 1498.18 165.10 1498.93 156.12 1498.93 151.43 1498.18 149.68 1497.43 148.82 1496.67 147.06 1494.41 146.61 1493.65 146.35 1492.90 146.43 1492.15 147.24 1491.39 149.90 1489.88 153.25 1487.62 157.25 1484.60 158.10 1483.85 158.72 1483.10 159.48 1481.59 159.96 1480.08 160.03 1479.32ZM223.74 1461.83 223.86 1463.36 224.14 1464.90 224.33 1465.66 224.71 1466.43 225.29 1467.20 227.54 1469.50 231.04 1473.34 231.52 1474.10 231.75 1474.87 231.70 1475.64 231.51 1476.41 230.18 1480.24 229.28 1482.54 228.17 1484.85 226.81 1487.15 225.76 1488.68 224.56 1490.22 222.50 1492.52 221.34 1492.52 219.28 1490.22 218.08 1488.68 217.03 1487.15 215.67 1484.85 214.56 1482.54 213.66 1480.24 212.33 1476.41 212.14 1475.64 212.09 1474.87 212.32 1474.10 212.80 1473.34 216.30 1469.50 218.55 1467.20 219.13 1466.43 219.51 1465.66 219.70 1464.90 219.98 1463.36 220.10 1461.83ZM283.78 1440.83 283.85 1445.36 284.34 1446.88 286.55 1450.65 290.78 1458.21 292.18 1460.47 292.51 1461.23 292.69 1461.98 292.68 1462.74 292.47 1463.49 292.11 1464.25 290.71 1466.52 287.75 1471.80 285.45 1474.82 284.96 1475.58 284.60 1476.34 284.07 1478.60 283.85 1480.11 283.78 1486.15 282.68 1486.15 282.61 1480.11 282.39 1478.60 281.86 1476.34 281.50 1475.58 281.01 1474.82 278.71 1471.80 275.75 1466.52 274.35 1464.25 273.99 1463.49 273.78 1462.74 273.77 1461.98 273.95 1461.23 274.28 1460.47 275.68 1458.21 279.91 1450.65 282.12 1446.88 282.61 1445.36 282.68 1440.83ZM346.36 1435.57 347.75 1437.10 348.99 1438.63 350.96 1441.69 351.77 1443.22 352.23 1444.75 352.48 1447.05 352.59 1449.34 352.53 1450.11 352.24 1450.87 350.15 1453.93 347.77 1458.52 346.99 1460.81 346.36 1463.87 342.72 1463.87 342.09 1460.81 341.31 1458.52 338.93 1453.93 336.84 1450.87 336.55 1450.11 336.49 1449.34 336.60 1447.05 336.85 1444.75 337.31 1443.22 338.12 1441.69 340.09 1438.63 341.33 1437.10 342.72 1435.57ZM406.40 1420.94 406.42 1423.97 406.56 1425.48 407.21 1427.75 407.88 1429.26 408.59 1430.02 409.58 1430.77 413.08 1433.04 417.32 1436.07 418.27 1436.82 418.95 1437.58 419.25 1438.34 418.96 1439.09 418.04 1439.85 413.71 1442.12 412.51 1442.87 411.72 1443.63 410.45 1445.14 408.92 1447.41 407.55 1449.68 406.40 1451.95 405.30 1451.95 404.15 1449.68 402.78 1447.41 401.25 1445.14 399.98 1443.63 399.19 1442.87 397.99 1442.12 393.66 1439.85 392.74 1439.09 392.45 1438.34 392.75 1437.58 393.43 1436.82 394.38 1436.07 398.62 1433.04 402.12 1430.77 403.11 1430.02 403.82 1429.26 404.49 1427.75 405.14 1425.48 405.28 1423.97 405.30 1420.94ZM468.98 1418.88 470.61 1421.20 471.83 1422.74 475.62 1426.61 476.64 1428.16 477.50 1429.71 477.78 1430.48 477.89 1431.25 477.61 1432.03 476.91 1432.80 475.08 1434.35 474.40 1435.12 474.03 1435.90 473.06 1438.99 472.70 1439.76 472.10 1440.54 469.87 1442.09 464.45 1442.09 462.22 1440.54 461.62 1439.76 461.26 1438.99 460.29 1435.90 459.92 1435.12 459.24 1434.35 457.41 1432.80 456.71 1432.03 456.43 1431.25 456.54 1430.48 456.82 1429.71 457.68 1428.16 458.70 1426.61 462.49 1422.74 463.71 1421.20 465.34 1418.88ZM531.18 1414.58 534.79 1415.35 537.32 1416.12 538.68 1416.89 539.81 1417.66 540.61 1418.42 540.97 1419.19 540.87 1419.96 540.47 1420.73 539.86 1421.50 537.67 1423.80 534.71 1427.64 533.67 1429.18 531.50 1433.02 529.40 1437.63 527.54 1437.63 525.44 1433.02 523.27 1429.18 522.23 1427.64 519.27 1423.80 517.08 1421.50 516.47 1420.73 516.07 1419.96 515.97 1419.19 516.33 1418.42 517.13 1417.66 518.26 1416.89 519.62 1416.12 522.15 1415.35 525.76 1414.58Z" fill="#FBD6D3" stroke="#1E1E1E" stroke-width="2.25" stroke-linejoin="round"/>
<path d="M127.83 1509.23 128.54 1511.50 129.55 1513.78 133.47 1519.85 134.73 1522.13 135.66 1525.17 135.85 1526.68 135.62 1527.44 134.99 1528.20 132.46 1530.48 130.77 1532.75 129.81 1534.27 129.14 1535.79 128.10 1538.83 127.59 1541.10 127.45 1542.62 126.35 1542.62 126.21 1541.10 125.70 1538.83 124.66 1535.79 123.99 1534.27 123.03 1532.75 121.34 1530.48 118.81 1528.20 118.18 1527.44 117.95 1526.68 118.14 1525.17 119.07 1522.13 120.33 1519.85 124.25 1513.78 125.26 1511.50 125.97 1509.23ZM188.79 1498.09 188.92 1499.62 189.25 1501.14 189.70 1502.66 190.08 1503.42 192.60 1507.23 194.26 1509.51 195.16 1511.04 196.01 1514.08 196.27 1516.36 196.19 1517.13 195.67 1518.65 194.58 1520.93 191.69 1527.78 188.79 1533.87 187.63 1533.87 184.73 1527.78 181.84 1520.93 180.75 1518.65 180.23 1517.13 180.15 1516.36 180.41 1514.08 181.26 1511.04 182.16 1509.51 183.82 1507.23 186.34 1503.42 186.72 1502.66 187.17 1501.14 187.50 1499.62 187.63 1498.09ZM250.10 1492.53 251.00 1494.80 252.55 1497.83 255.40 1501.62 256.41 1503.14 257.92 1506.17 258.40 1507.69 258.47 1508.45 258.34 1509.96 258.04 1511.48 257.39 1513.75 257.04 1514.51 255.15 1517.54 252.67 1522.09 251.55 1523.61 250.10 1525.12 248.94 1525.12 247.49 1523.61 246.37 1522.09 243.89 1517.54 242.00 1514.51 241.65 1513.75 241.00 1511.48 240.70 1509.96 240.57 1508.45 240.64 1507.69 241.12 1506.17 242.63 1503.14 243.64 1501.62 246.49 1497.83 248.04 1494.80 248.94 1492.53ZM311.38 1481.07 311.41 1486.40 311.66 1487.93 312.16 1489.45 313.93 1493.25 315.00 1494.78 316.83 1497.06 317.84 1498.58 319.32 1501.63 319.75 1503.15 319.77 1503.91 319.40 1505.43 317.22 1510.00 314.11 1515.33 312.54 1517.61 312.11 1518.38 311.84 1519.14 311.51 1522.94 311.38 1527.51 310.28 1527.51 310.15 1522.94 309.82 1519.14 309.55 1518.38 309.12 1517.61 307.55 1515.33 304.44 1510.00 302.26 1505.43 301.89 1503.91 301.91 1503.15 302.34 1501.63 303.82 1498.58 304.83 1497.06 306.66 1494.78 307.73 1493.25 309.50 1489.45 310.00 1487.93 310.25 1486.40 310.28 1481.07ZM372.69 1472.63 372.75 1481.68 373.20 1485.46 373.94 1489.23 374.16 1489.98 374.90 1491.49 376.87 1494.51 379.33 1499.04 379.95 1500.55 380.20 1502.06 379.94 1504.32 379.12 1507.34 378.76 1508.09 376.87 1511.11 376.51 1511.87 375.25 1514.89 374.50 1517.15 369.78 1517.15 369.03 1514.89 367.77 1511.87 367.41 1511.11 365.52 1508.09 365.16 1507.34 364.34 1504.32 364.08 1502.06 364.33 1500.55 364.95 1499.04 367.41 1494.51 369.38 1491.49 370.12 1489.98 370.34 1489.23 371.08 1485.46 371.53 1481.68 371.59 1472.63ZM434.00 1480.26 434.00 1487.83 434.24 1488.59 434.77 1489.34 437.13 1491.61 441.16 1496.15 442.12 1497.67 442.36 1498.42 442.40 1499.18 442.40 1503.72 442.27 1504.48 441.56 1505.99 438.95 1509.77 436.06 1516.58 434.00 1521.12 432.90 1521.12 430.84 1516.58 427.95 1509.77 425.34 1505.99 424.63 1504.48 424.50 1503.72 424.50 1499.18 424.54 1498.42 424.78 1497.67 425.74 1496.15 429.77 1491.61 432.13 1489.34 432.66 1488.59 432.90 1487.83 432.90 1480.26ZM495.31 1475.02 495.33 1482.52 495.49 1484.02 496.10 1485.53 501.02 1493.79 501.77 1495.29 502.92 1498.29 503.39 1499.79 503.67 1501.29 503.71 1502.04 503.65 1502.80 503.22 1504.30 502.51 1505.80 500.81 1508.80 499.76 1510.30 495.69 1515.56 493.83 1515.56 489.76 1510.30 488.71 1508.80 487.01 1505.80 486.30 1504.30 485.87 1502.80 485.81 1502.04 485.85 1501.29 486.13 1499.79 486.60 1498.29 487.75 1495.29 488.50 1493.79 493.42 1485.53 494.03 1484.02 494.19 1482.52 494.21 1475.02ZM556.62 1474.22 557.44 1478.02 558.27 1481.05 562.16 1492.45 562.53 1493.96 562.70 1495.48 562.61 1497.00 562.16 1499.28 561.01 1503.84 559.02 1510.67 557.31 1517.51 556.83 1521.30 556.62 1525.10 555.52 1525.10 555.31 1521.30 554.83 1517.51 553.12 1510.67 551.13 1503.84 549.98 1499.28 549.53 1497.00 549.44 1495.48 549.61 1493.96 549.98 1492.45 553.87 1481.05 554.70 1478.02 555.52 1474.22Z" fill="#C2EEEF" stroke="#1E1E1E" stroke-width="2.25" stroke-linejoin="round"/>
<path d="M113.10 1508.70 174.41 1491.70 235.72 1477.40 297.03 1463.90 358.34 1448.80 419.65 1440.00 480.96 1430.50 542.27 1424.10" fill="none" stroke="#F26A62" stroke-opacity="0.85" stroke-width="4.3" stroke-linejoin="round"/>
<path d="M113.10 1525.10 174.41 1516.40 235.72 1509.20 297.03 1505.20 358.34 1502.00 419.65 1503.60 480.96 1500.80 542.27 1499.20" fill="none" stroke="#1FB9BE" stroke-opacity="0.85" stroke-width="4.3" stroke-linejoin="round"/>
<path d="M671.75 1646.6H1174.35M671.75 1592H1174.35M671.75 1537.4H1174.35M671.75 1482.8H1174.35M671.75 1428.2H1174.35M671.75 1619.3H1174.35M671.75 1564.7H1174.35M671.75 1510.1H1174.35M671.75 1455.5H1174.35M671.75 1400.9H1174.35" stroke="#B3B3B3" stroke-opacity="0.5" stroke-width="1.4" fill="none"/>
<path d="M708.55 1388.9V1656.7M769.86 1388.9V1656.7M831.17 1388.9V1656.7M892.48 1388.9V1656.7M953.79 1388.9V1656.7M1015.1 1388.9V1656.7M1076.41 1388.9V1656.7M1137.72 1388.9V1656.7" stroke="#B3B3B3" stroke-opacity="0.5" stroke-width="1.4" fill="none"/>
<text transform="translate(627.15 1628.05) scale(0.81 1)" font-size="24.27" fill="#303030">0.96</text>
<text transform="translate(627.28 1573.45) scale(0.81 1)" font-size="24.27" fill="#303030">0.97</text>
<text transform="translate(627.14 1518.85) scale(0.81 1)" font-size="24.27" fill="#303030">0.98</text>
<text transform="translate(627.22 1464.25) scale(0.81 1)" font-size="24.27" fill="#303030">0.99</text>
<text transform="translate(627.06 1409.65) scale(0.81 1)" font-size="24.27" fill="#303030">1.00</text>
<text transform="translate(702.58 1680.1) scale(0.81 1)" font-size="24.27" fill="#303030">1</text>
<text transform="translate(763.89 1680.1) scale(0.81 1)" font-size="24.27" fill="#303030">2</text>
<text transform="translate(825.2 1680.1) scale(0.81 1)" font-size="24.27" fill="#303030">3</text>
<text transform="translate(886.51 1680.1) scale(0.81 1)" font-size="24.27" fill="#303030">4</text>
<text transform="translate(947.82 1680.1) scale(0.81 1)" font-size="24.27" fill="#303030">5</text>
<text transform="translate(1009.13 1680.1) scale(0.81 1)" font-size="24.27" fill="#303030">6</text>
<text transform="translate(1070.44 1680.1) scale(0.81 1)" font-size="24.27" fill="#303030">7</text>
<text transform="translate(1131.75 1680.1) scale(0.81 1)" font-size="24.27" fill="#303030">8</text>
<text transform="translate(885.13 1699.7) scale(0.832 1)" font-size="18.38" font-weight="bold" fill="#000">Effect size</text>
<text transform="translate(621.36 1533.49) rotate(-90) scale(0.785 1)" font-size="19.63" font-weight="bold" fill="#000">SP</text>
<text transform="translate(883.15 1368.3) scale(0.83 1)" font-size="36.36" font-weight="bold" fill="#000">Bi-3C</text>
<rect x="802.6" y="1724.35" width="32.7" height="32.6" fill="#FBD6D3" stroke="#222" stroke-width="1.9"/>
<path d="M804.95 1740.7H833.35" stroke="#F26A62" stroke-width="4.2"/>
<text transform="translate(848.66 1747.5) scale(0.866 1)" font-size="17.97" fill="#1A1A1A">CellDMC</text>
<rect x="927.4" y="1724.35" width="32.7" height="32.6" fill="#C2EEEF" stroke="#222" stroke-width="1.9"/>
<path d="M929.75 1740.7H958.15" stroke="#1FB9BE" stroke-width="4.2"/>
<text transform="translate(973.4 1747.5) scale(0.866 1)" font-size="17.97" fill="#1A1A1A">TCA (Y|X)</text>
<text transform="translate(601.16 1365) scale(1 1)" font-size="38.66" font-weight="bold" fill="#000">K</text>
<path d="M697.11 1423.65 699.58 1430.45 701.83 1435.73 702.67 1438.00 704.43 1444.03 704.84 1446.30 704.94 1447.81 704.93 1448.56 704.71 1450.07 704.06 1452.34 701.99 1458.37 700.85 1461.39 699.07 1465.92 696.68 1471.21 696.19 1472.71 695.66 1475.73 695.40 1478.00 695.33 1480.26 695.47 1482.53 695.93 1487.06 696.04 1489.32 695.97 1490.83 695.41 1495.36 695.31 1496.87 695.30 1512.72 694.20 1512.72 694.19 1496.87 694.09 1495.36 693.53 1490.83 693.46 1489.32 693.57 1487.06 694.03 1482.53 694.17 1480.26 694.10 1478.00 693.84 1475.73 693.31 1472.71 692.82 1471.21 690.43 1465.92 688.65 1461.39 687.51 1458.37 685.44 1452.34 684.79 1450.07 684.57 1448.56 684.56 1447.81 684.66 1446.30 685.07 1444.03 686.83 1438.00 687.67 1435.73 689.92 1430.45 692.39 1423.65ZM756.99 1432.08 757.77 1436.61 758.83 1441.90 759.41 1444.16 761.20 1450.20 761.84 1453.22 762.49 1460.77 762.69 1467.56 762.46 1473.60 761.83 1481.15 761.34 1484.17 760.08 1490.21 759.55 1493.23 758.56 1500.02 756.77 1513.61 756.63 1516.63 756.61 1536.26 755.51 1536.26 755.49 1516.63 755.35 1513.61 753.56 1500.02 752.57 1493.23 752.04 1490.21 750.78 1484.17 750.29 1481.15 749.66 1473.60 749.43 1467.56 749.63 1460.77 750.28 1453.22 750.92 1450.20 752.71 1444.16 753.29 1441.90 754.35 1436.61 755.13 1432.08ZM820.44 1453.88 822.52 1457.63 823.42 1459.88 824.13 1462.88 824.70 1465.88 824.98 1468.13 825.07 1470.38 824.92 1471.88 824.58 1473.38 822.97 1478.63 822.71 1480.13 822.38 1483.13 820.93 1502.64 818.85 1524.39 818.47 1531.89 818.30 1538.64 816.44 1538.64 816.27 1531.89 815.89 1524.39 813.81 1502.64 812.36 1483.13 812.03 1480.13 811.77 1478.63 810.16 1473.38 809.82 1471.88 809.67 1470.38 809.76 1468.13 810.04 1465.88 810.61 1462.88 811.32 1459.88 812.22 1457.63 814.30 1453.88ZM879.97 1462.78 881.90 1472.53 883.64 1479.29 883.99 1481.54 884.07 1483.04 883.22 1504.79 883.17 1522.05 883.01 1525.80 882.02 1536.30 880.36 1547.55 879.59 1552.05 879.26 1555.05 879.23 1603.06 878.13 1603.06 878.10 1555.05 877.77 1552.05 877.00 1547.55 875.34 1536.30 874.35 1525.80 874.19 1522.05 874.14 1504.79 873.29 1483.04 873.37 1481.54 873.72 1479.29 875.46 1472.53 877.39 1462.78ZM940.54 1453.86 940.64 1468.18 941.84 1481.74 942.76 1498.31 943.44 1508.10 943.59 1513.38 943.56 1532.21 943.06 1545.02 942.66 1551.05 941.69 1562.35 940.87 1570.63 940.59 1575.15 940.54 1617.34 939.44 1617.34 939.39 1575.15 939.11 1570.63 938.29 1562.35 937.32 1551.05 936.92 1545.02 936.42 1532.21 936.39 1513.38 936.54 1508.10 937.22 1498.31 938.14 1481.74 939.34 1468.18 939.44 1453.86ZM1001.85 1480.58 1002.11 1485.84 1002.59 1492.59 1003.89 1503.85 1004.38 1510.61 1004.90 1521.12 1005.43 1536.88 1006.03 1548.15 1006.15 1552.65 1006.05 1556.40 1005.71 1560.91 1004.64 1571.42 1003.25 1583.43 1002.27 1593.19 1001.99 1596.94 1001.87 1600.70 1001.85 1628.47 1000.75 1628.47 1000.73 1600.70 1000.61 1596.94 1000.33 1593.19 999.35 1583.43 997.96 1571.42 996.89 1560.91 996.55 1556.40 996.45 1552.65 996.57 1548.15 997.17 1536.88 997.70 1521.12 998.22 1510.61 998.71 1503.85 1000.01 1492.59 1000.49 1485.84 1000.75 1480.58ZM1063.16 1476.13 1063.54 1483.67 1064.09 1491.96 1066.35 1515.33 1066.69 1519.85 1067.46 1553.02 1067.34 1556.79 1066.98 1561.31 1065.90 1571.86 1064.66 1582.42 1063.42 1595.23 1063.20 1599.75 1063.16 1612.57 1062.06 1612.57 1062.02 1599.75 1061.80 1595.23 1060.56 1582.42 1059.32 1571.86 1058.24 1561.31 1057.88 1556.79 1057.76 1553.02 1058.53 1519.85 1058.87 1515.33 1061.13 1491.96 1061.68 1483.67 1062.06 1476.13ZM1124.47 1478.99 1124.59 1485.76 1124.93 1494.03 1126.10 1506.06 1126.48 1512.08 1127.39 1533.89 1127.52 1540.66 1127.50 1558.71 1126.98 1572.24 1126.45 1579.76 1124.79 1597.81 1124.52 1602.32 1124.47 1631.65 1123.37 1631.65 1123.32 1602.32 1123.05 1597.81 1121.39 1579.76 1120.86 1572.24 1120.34 1558.71 1120.32 1540.66 1120.45 1533.89 1121.36 1512.08 1121.74 1506.06 1122.91 1494.03 1123.25 1485.76 1123.37 1478.99Z" fill="#FBD6D3" stroke="#1E1E1E" stroke-width="2.25" stroke-linejoin="round"/>
<path d="M725.95 1413.47 729.53 1417.25 732.07 1420.26 734.15 1422.53 735.24 1424.03 735.59 1424.79 735.75 1425.54 735.74 1430.82 735.64 1431.58 735.17 1433.08 734.01 1435.35 730.85 1440.63 724.59 1449.68 723.73 1451.18 723.44 1451.94 723.29 1452.69 723.11 1454.96 722.91 1459.48 722.90 1486.63 721.80 1486.63 721.79 1459.48 721.59 1454.96 721.41 1452.69 721.26 1451.94 720.97 1451.18 720.11 1449.68 713.85 1440.63 710.69 1435.35 709.53 1433.08 709.06 1431.58 708.96 1430.82 708.95 1425.54 709.11 1424.79 709.46 1424.03 710.55 1422.53 712.63 1420.26 715.17 1417.25 718.75 1413.47ZM787.26 1422.06 787.52 1423.57 788.07 1425.83 789.32 1429.59 790.08 1431.09 792.95 1435.61 794.16 1437.87 795.80 1442.38 796.11 1443.89 796.17 1444.64 795.97 1446.14 795.38 1447.65 792.97 1452.16 790.65 1455.93 790.27 1456.68 789.74 1458.18 788.09 1465.71 785.74 1472.48 784.56 1477.00 784.23 1479.25 784.21 1483.77 783.11 1483.77 783.09 1479.25 782.76 1477.00 781.58 1472.48 779.23 1465.71 777.58 1458.18 777.05 1456.68 776.67 1455.93 774.35 1452.16 771.94 1447.65 771.35 1446.14 771.15 1444.64 771.21 1443.89 771.52 1442.38 773.16 1437.87 774.37 1435.61 777.24 1431.09 778.00 1429.59 779.25 1425.83 779.80 1423.57 780.06 1422.06ZM850.89 1426.20 853.27 1434.47 855.68 1441.24 856.15 1443.50 856.23 1445.00 856.16 1446.51 855.49 1451.02 855.06 1453.28 854.47 1455.53 849.35 1470.58 847.55 1475.09 847.08 1476.59 846.80 1478.10 846.53 1481.86 846.32 1486.37 846.26 1490.13 843.68 1490.13 843.62 1486.37 843.41 1481.86 843.14 1478.10 842.86 1476.59 842.39 1475.09 840.59 1470.58 835.47 1455.53 834.88 1453.28 834.45 1451.02 833.78 1446.51 833.71 1445.00 833.79 1443.50 834.26 1441.24 836.67 1434.47 839.05 1426.20ZM910.42 1433.68 911.69 1436.68 912.82 1439.68 915.20 1447.19 915.89 1450.19 916.08 1451.69 916.10 1453.19 915.99 1453.94 915.55 1455.45 913.94 1459.20 913.27 1461.45 909.95 1479.47 907.83 1487.73 907.24 1492.23 906.97 1495.24 906.83 1498.24 906.83 1541.03 905.73 1541.03 905.73 1498.24 905.59 1495.24 905.32 1492.23 904.73 1487.73 902.61 1479.47 899.29 1461.45 898.62 1459.20 897.01 1455.45 896.57 1453.94 896.46 1453.19 896.48 1451.69 896.67 1450.19 897.36 1447.19 899.74 1439.68 900.87 1436.68 902.14 1433.68ZM969.41 1427.78 970.39 1431.54 971.06 1434.54 972.22 1441.29 972.79 1445.80 973.07 1449.55 973.34 1455.55 973.80 1469.07 973.85 1475.07 973.66 1480.32 973.39 1484.08 972.92 1486.33 971.23 1492.33 969.81 1499.09 969.17 1502.84 968.42 1510.35 968.14 1516.35 967.04 1516.35 966.76 1510.35 966.01 1502.84 965.37 1499.09 963.95 1492.33 962.26 1486.33 961.79 1484.08 961.52 1480.32 961.33 1475.07 961.38 1469.07 961.84 1455.55 962.11 1449.55 962.39 1445.80 962.96 1441.29 964.12 1434.54 964.79 1431.54 965.77 1427.78ZM1031.26 1442.10 1032.88 1447.38 1034.39 1454.19 1035.01 1457.96 1035.17 1460.99 1034.93 1464.76 1033.11 1480.63 1031.10 1501.03 1030.16 1512.37 1029.84 1517.66 1029.48 1526.73 1029.45 1542.59 1028.35 1542.59 1028.32 1526.73 1027.96 1517.66 1027.64 1512.37 1026.70 1501.03 1024.69 1480.63 1022.87 1464.76 1022.63 1460.99 1022.79 1457.96 1023.41 1454.19 1024.92 1447.38 1026.54 1442.10ZM1090.76 1428.90 1091.26 1433.40 1092.07 1438.65 1092.55 1440.91 1094.32 1447.66 1095.41 1453.67 1095.94 1457.42 1096.13 1461.17 1096.13 1470.18 1096.03 1472.43 1095.76 1474.68 1094.80 1480.69 1093.43 1491.20 1092.01 1505.46 1090.89 1515.22 1090.78 1518.22 1090.76 1536.23 1089.66 1536.23 1089.64 1518.22 1089.53 1515.22 1088.41 1505.46 1086.99 1491.20 1085.62 1480.69 1084.66 1474.68 1084.39 1472.43 1084.29 1470.18 1084.29 1461.17 1084.48 1457.42 1085.01 1453.67 1086.10 1447.66 1087.87 1440.91 1088.35 1438.65 1089.16 1433.40 1089.66 1428.90ZM1152.09 1426.19 1153.25 1432.98 1154.65 1444.31 1155.69 1457.14 1156.01 1464.69 1155.99 1485.06 1155.57 1499.41 1155.21 1505.44 1154.54 1513.75 1153.34 1524.31 1152.81 1533.37 1150.23 1533.37 1149.70 1524.31 1148.50 1513.75 1147.83 1505.44 1147.47 1499.41 1147.05 1485.06 1147.03 1464.69 1147.35 1457.14 1148.39 1444.31 1149.79 1432.98 1150.95 1426.19Z" fill="#C2EEEF" stroke="#1E1E1E" stroke-width="2.25" stroke-linejoin="round"/>
<path d="M708.55 1451.50 769.86 1473.40 831.17 1486.20 892.48 1510.00 953.79 1524.30 1015.10 1549.40 1076.41 1541.80 1137.72 1552.90" fill="none" stroke="#F26A62" stroke-opacity="0.85" stroke-width="4.3" stroke-linejoin="round"/>
<path d="M708.55 1433.70 769.86 1444.80 831.17 1451.20 892.48 1459.10 953.79 1469.40 1015.10 1477.40 1076.41 1475.30 1137.72 1481.10" fill="none" stroke="#1FB9BE" stroke-opacity="0.85" stroke-width="4.3" stroke-linejoin="round"/>
<path d="M1267.2 1614.35H1769.8M1267.2 1553.35H1769.8M1267.2 1492.35H1769.8M1267.2 1431.35H1769.8M1267.2 1644.85H1769.8M1267.2 1583.85H1769.8M1267.2 1522.85H1769.8M1267.2 1461.85H1769.8M1267.2 1400.85H1769.8" stroke="#B3B3B3" stroke-opacity="0.5" stroke-width="1.4" fill="none"/>
<path d="M1304 1388.9V1656.7M1365.31 1388.9V1656.7M1426.62 1388.9V1656.7M1487.93 1388.9V1656.7M1549.24 1388.9V1656.7M1610.55 1388.9V1656.7M1671.86 1388.9V1656.7M1733.17 1388.9V1656.7" stroke="#B3B3B3" stroke-opacity="0.5" stroke-width="1.4" fill="none"/>
<text transform="translate(1222.51 1653.6) scale(0.81 1)" font-size="24.27" fill="#303030">0.00</text>
<text transform="translate(1222.56 1592.6) scale(0.81 1)" font-size="24.27" fill="#303030">0.25</text>
<text transform="translate(1222.51 1531.6) scale(0.81 1)" font-size="24.27" fill="#303030">0.50</text>
<text transform="translate(1222.56 1470.6) scale(0.81 1)" font-size="24.27" fill="#303030">0.75</text>
<text transform="translate(1222.51 1409.6) scale(0.81 1)" font-size="24.27" fill="#303030">1.00</text>
<text transform="translate(1298.03 1680.1) scale(0.81 1)" font-size="24.27" fill="#303030">1</text>
<text transform="translate(1359.34 1680.1) scale(0.81 1)" font-size="24.27" fill="#303030">2</text>
<text transform="translate(1420.65 1680.1) scale(0.81 1)" font-size="24.27" fill="#303030">3</text>
<text transform="translate(1481.96 1680.1) scale(0.81 1)" font-size="24.27" fill="#303030">4</text>
<text transform="translate(1543.27 1680.1) scale(0.81 1)" font-size="24.27" fill="#303030">5</text>
<text transform="translate(1604.58 1680.1) scale(0.81 1)" font-size="24.27" fill="#303030">6</text>
<text transform="translate(1665.89 1680.1) scale(0.81 1)" font-size="24.27" fill="#303030">7</text>
<text transform="translate(1727.2 1680.1) scale(0.81 1)" font-size="24.27" fill="#303030">8</text>
<text transform="translate(1480.58 1699.7) scale(0.832 1)" font-size="18.38" font-weight="bold" fill="#000">Effect size</text>
<text transform="translate(1216.61 1538.68) rotate(-90) scale(0.785 1)" font-size="19.63" font-weight="bold" fill="#000">PPV</text>
<text transform="translate(1478.6 1368.3) scale(0.83 1)" font-size="36.36" font-weight="bold" fill="#000">Bi-3C</text>
<rect x="1398.05" y="1724.35" width="32.7" height="32.6" fill="#FBD6D3" stroke="#222" stroke-width="1.9"/>
<path d="M1400.4 1740.7H1428.8" stroke="#F26A62" stroke-width="4.2"/>
<text transform="translate(1444.11 1747.5) scale(0.866 1)" font-size="17.97" fill="#1A1A1A">CellDMC</text>
<rect x="1522.85" y="1724.35" width="32.7" height="32.6" fill="#C2EEEF" stroke="#222" stroke-width="1.9"/>
<path d="M1525.2 1740.7H1553.6" stroke="#1FB9BE" stroke-width="4.2"/>
<text transform="translate(1568.85 1747.5) scale(0.866 1)" font-size="17.97" fill="#1A1A1A">TCA (Y|X)</text>
<text transform="translate(1199.91 1365) scale(1 1)" font-size="38.66" font-weight="bold" fill="#000">L</text>
<path d="M1292.02 1441.31 1295.21 1453.38 1296.35 1457.15 1297.26 1459.42 1299.99 1464.70 1300.90 1466.96 1301.82 1469.98 1302.40 1472.24 1302.64 1473.75 1302.70 1475.26 1302.60 1476.01 1302.10 1477.52 1299.58 1482.05 1298.02 1485.82 1293.91 1497.14 1292.78 1500.91 1292.38 1503.17 1292.00 1506.19 1290.94 1517.51 1290.78 1520.52 1290.75 1529.58 1289.65 1529.58 1289.62 1520.52 1289.46 1517.51 1288.40 1506.19 1288.02 1503.17 1287.62 1500.91 1286.49 1497.14 1282.38 1485.82 1280.82 1482.05 1278.30 1477.52 1277.80 1476.01 1277.70 1475.26 1277.76 1473.75 1278.00 1472.24 1278.58 1469.98 1279.50 1466.96 1280.41 1464.70 1283.14 1459.42 1284.05 1457.15 1285.19 1453.38 1288.38 1441.31ZM1352.44 1449.58 1352.54 1451.83 1352.90 1454.84 1353.39 1457.84 1353.99 1460.10 1354.85 1462.35 1357.12 1467.61 1359.44 1472.11 1360.31 1474.36 1360.73 1476.62 1361.15 1479.62 1361.34 1483.38 1361.18 1485.63 1360.48 1491.64 1360.46 1502.15 1360.19 1504.41 1359.56 1506.66 1357.43 1512.67 1355.05 1518.67 1354.29 1520.93 1352.93 1526.19 1352.06 1530.69 1350.96 1530.69 1350.09 1526.19 1348.73 1520.93 1347.97 1518.67 1345.59 1512.67 1343.46 1506.66 1342.83 1504.41 1342.56 1502.15 1342.54 1491.64 1341.84 1485.63 1341.68 1483.38 1341.87 1479.62 1342.29 1476.62 1342.71 1474.36 1343.58 1472.11 1345.90 1467.61 1348.17 1462.35 1349.03 1460.10 1349.63 1457.84 1350.12 1454.84 1350.48 1451.83 1350.58 1449.58ZM1416.42 1469.15 1419.70 1471.41 1421.36 1472.92 1421.93 1473.67 1423.42 1475.94 1424.60 1478.20 1425.12 1479.71 1425.33 1481.22 1425.30 1481.98 1424.93 1483.49 1423.28 1487.26 1422.77 1488.77 1422.63 1489.53 1422.21 1493.30 1421.23 1505.38 1420.62 1509.91 1420.06 1512.17 1419.13 1515.19 1417.87 1518.96 1416.42 1522.74 1409.22 1522.74 1407.77 1518.96 1406.51 1515.19 1405.58 1512.17 1405.02 1509.91 1404.41 1505.38 1403.43 1493.30 1403.01 1489.53 1402.87 1488.77 1402.36 1487.26 1400.71 1483.49 1400.34 1481.98 1400.31 1481.22 1400.52 1479.71 1401.04 1478.20 1402.22 1475.94 1403.71 1473.67 1404.28 1472.92 1405.94 1471.41 1409.22 1469.15ZM1474.71 1469.15 1475.69 1472.18 1476.92 1475.20 1477.71 1476.72 1480.49 1481.26 1481.22 1482.78 1482.67 1486.57 1483.41 1488.84 1483.88 1491.11 1483.97 1492.63 1483.83 1494.90 1483.17 1500.20 1483.09 1502.47 1483.19 1503.23 1483.59 1504.75 1485.35 1509.29 1485.70 1510.81 1485.75 1511.56 1485.61 1513.08 1485.23 1514.59 1483.79 1518.38 1482.93 1519.90 1480.06 1523.68 1479.03 1525.20 1477.08 1528.99 1476.10 1531.26 1475.47 1533.53 1475.17 1535.80 1474.81 1539.59 1474.71 1542.62 1473.55 1542.62 1473.45 1539.59 1473.09 1535.80 1472.79 1533.53 1472.16 1531.26 1471.18 1528.99 1469.23 1525.20 1468.20 1523.68 1465.33 1519.90 1464.47 1518.38 1463.03 1514.59 1462.65 1513.08 1462.51 1511.56 1462.56 1510.81 1462.91 1509.29 1464.67 1504.75 1465.07 1503.23 1465.17 1502.47 1465.09 1500.20 1464.43 1494.90 1464.29 1492.63 1464.38 1491.11 1464.85 1488.84 1465.59 1486.57 1467.04 1482.78 1467.77 1481.26 1470.55 1476.72 1471.34 1475.20 1472.57 1472.18 1473.55 1469.15ZM1535.99 1464.68 1536.34 1467.71 1536.82 1470.73 1537.35 1473.00 1538.42 1476.79 1538.93 1479.06 1539.22 1481.33 1539.77 1488.14 1540.18 1490.41 1541.12 1492.68 1544.01 1497.98 1545.98 1502.52 1546.78 1504.79 1547.04 1506.30 1547.06 1507.06 1546.86 1509.33 1546.43 1511.60 1544.59 1519.17 1543.29 1523.71 1541.52 1529.01 1535.99 1543.39 1534.89 1543.39 1529.36 1529.01 1527.59 1523.71 1526.29 1519.17 1524.45 1511.60 1524.02 1509.33 1523.82 1507.06 1523.84 1506.30 1524.10 1504.79 1524.90 1502.52 1526.87 1497.98 1529.76 1492.68 1530.70 1490.41 1531.11 1488.14 1531.66 1481.33 1531.95 1479.06 1532.46 1476.79 1533.53 1473.00 1534.06 1470.73 1534.54 1467.71 1534.89 1464.68ZM1598.04 1478.99 1598.22 1481.25 1598.58 1483.51 1599.19 1486.52 1599.64 1488.03 1600.53 1490.29 1606.68 1503.84 1608.97 1508.36 1609.63 1509.86 1610.10 1511.37 1610.70 1514.38 1610.99 1516.64 1611.04 1518.15 1610.76 1519.65 1609.76 1521.91 1608.00 1524.92 1605.56 1529.44 1599.91 1539.23 1598.96 1541.49 1598.04 1544.50 1595.46 1544.50 1594.54 1541.49 1593.59 1539.23 1587.94 1529.44 1585.50 1524.92 1583.74 1521.91 1582.74 1519.65 1582.46 1518.15 1582.51 1516.64 1582.80 1514.38 1583.40 1511.37 1583.87 1509.86 1584.53 1508.36 1586.82 1503.84 1592.97 1490.29 1593.86 1488.03 1594.31 1486.52 1594.92 1483.51 1595.28 1481.25 1595.46 1478.99ZM1658.61 1474.54 1659.21 1477.54 1660.18 1480.54 1661.01 1482.05 1663.48 1485.80 1664.19 1487.30 1664.42 1488.05 1665.13 1491.05 1665.77 1494.81 1666.19 1497.81 1666.71 1503.07 1667.02 1505.32 1667.20 1506.07 1667.77 1507.57 1669.97 1512.08 1670.44 1513.58 1670.55 1514.33 1670.46 1515.83 1670.26 1516.58 1669.63 1518.08 1660.77 1533.85 1655.35 1533.85 1646.49 1518.08 1645.86 1516.58 1645.66 1515.83 1645.57 1514.33 1645.68 1513.58 1646.15 1512.08 1648.35 1507.57 1648.92 1506.07 1649.10 1505.32 1649.41 1503.07 1649.93 1497.81 1650.35 1494.81 1650.99 1491.05 1651.70 1488.05 1651.93 1487.30 1652.64 1485.80 1655.11 1482.05 1655.94 1480.54 1656.91 1477.54 1657.51 1474.54ZM1721.19 1476.13 1723.17 1483.67 1725.33 1491.21 1726.50 1496.48 1727.39 1501.76 1728.04 1509.30 1728.47 1512.31 1729.00 1513.82 1730.64 1517.59 1730.97 1519.10 1730.98 1519.85 1730.76 1521.36 1730.29 1522.87 1727.12 1530.41 1724.63 1535.69 1722.08 1540.21 1716.66 1540.21 1714.11 1535.69 1711.62 1530.41 1708.45 1522.87 1707.98 1521.36 1707.76 1519.85 1707.77 1519.10 1708.10 1517.59 1709.74 1513.82 1710.27 1512.31 1710.70 1509.30 1711.35 1501.76 1712.24 1496.48 1713.41 1491.21 1715.57 1483.67 1717.55 1476.13Z" fill="#FBD6D3" stroke="#1E1E1E" stroke-width="2.25" stroke-linejoin="round"/>
<path d="M1320.51 1428.43 1321.83 1433.69 1323.54 1438.94 1325.92 1444.96 1328.22 1449.46 1329.16 1451.72 1329.50 1453.22 1329.98 1456.23 1330.22 1458.48 1330.31 1460.73 1330.15 1462.24 1329.74 1463.74 1327.49 1469.00 1326.30 1471.25 1323.49 1475.76 1322.37 1478.01 1320.48 1483.27 1319.47 1487.03 1319.20 1488.53 1318.83 1491.54 1318.40 1496.80 1318.35 1515.58 1317.25 1515.58 1317.20 1496.80 1316.77 1491.54 1316.40 1488.53 1316.13 1487.03 1315.12 1483.27 1313.23 1478.01 1312.11 1475.76 1309.30 1471.25 1308.11 1469.00 1305.86 1463.74 1305.45 1462.24 1305.29 1460.73 1305.38 1458.48 1305.62 1456.23 1306.10 1453.22 1306.44 1451.72 1307.38 1449.46 1309.68 1444.96 1312.06 1438.94 1313.77 1433.69 1315.09 1428.43ZM1381.47 1441.31 1382.42 1445.07 1383.51 1448.83 1386.75 1457.85 1389.08 1464.61 1389.77 1466.87 1390.12 1468.37 1390.34 1469.87 1390.63 1474.38 1390.73 1478.14 1390.62 1479.64 1390.11 1481.90 1388.25 1487.16 1386.85 1491.67 1385.80 1494.68 1384.84 1496.93 1383.69 1499.19 1382.37 1501.44 1380.40 1504.45 1377.82 1504.45 1375.85 1501.44 1374.53 1499.19 1373.38 1496.93 1372.42 1494.68 1371.37 1491.67 1369.97 1487.16 1368.11 1481.90 1367.60 1479.64 1367.49 1478.14 1367.59 1474.38 1367.88 1469.87 1368.10 1468.37 1368.45 1466.87 1369.14 1464.61 1371.47 1457.85 1374.71 1448.83 1375.80 1445.07 1376.75 1441.31ZM1443.49 1447.51 1444.43 1450.54 1445.80 1454.33 1446.81 1456.61 1449.46 1461.91 1451.50 1467.22 1452.48 1470.25 1452.80 1471.76 1452.93 1473.28 1452.84 1474.80 1452.34 1477.07 1448.09 1489.20 1446.46 1492.99 1443.84 1496.77 1443.44 1497.53 1443.20 1498.29 1443.13 1508.90 1437.71 1508.90 1437.64 1498.29 1437.40 1497.53 1437.00 1496.77 1434.38 1492.99 1432.75 1489.20 1428.50 1477.07 1428.00 1474.80 1427.91 1473.28 1428.04 1471.76 1428.36 1470.25 1429.34 1467.22 1431.38 1461.91 1434.03 1456.61 1435.04 1454.33 1436.41 1450.54 1437.35 1447.51ZM1504.80 1453.24 1508.03 1460.78 1511.69 1470.58 1513.60 1475.10 1514.05 1476.61 1514.24 1478.12 1514.20 1478.87 1513.89 1480.38 1512.50 1484.15 1512.03 1485.66 1511.65 1487.92 1510.85 1494.71 1510.57 1496.22 1510.16 1497.72 1509.04 1500.74 1506.78 1506.02 1504.18 1511.29 1503.65 1512.80 1502.96 1515.82 1502.56 1518.08 1502.33 1520.34 1502.28 1534.67 1501.18 1534.67 1501.13 1520.34 1500.90 1518.08 1500.50 1515.82 1499.81 1512.80 1499.28 1511.29 1496.68 1506.02 1494.42 1500.74 1493.30 1497.72 1492.89 1496.22 1492.61 1494.71 1491.81 1487.92 1491.43 1485.66 1490.96 1484.15 1489.57 1480.38 1489.26 1478.87 1489.22 1478.12 1489.41 1476.61 1489.86 1475.10 1491.77 1470.58 1495.43 1460.78 1498.66 1453.24ZM1564.86 1448.30 1566.06 1452.80 1567.13 1457.31 1568.59 1464.06 1569.21 1467.82 1569.96 1476.08 1570.76 1489.59 1571.34 1497.10 1571.45 1500.10 1571.37 1501.60 1571.07 1503.11 1567.92 1512.87 1566.21 1517.37 1564.33 1521.12 1561.75 1521.12 1559.87 1517.37 1558.16 1512.87 1555.01 1503.11 1554.71 1501.60 1554.63 1500.10 1554.74 1497.10 1555.32 1489.59 1556.12 1476.08 1556.87 1467.82 1557.49 1464.06 1558.95 1457.31 1560.02 1452.80 1561.22 1448.30ZM1626.71 1464.68 1628.60 1468.47 1629.91 1471.50 1631.81 1476.80 1632.73 1479.83 1633.19 1482.11 1633.42 1484.38 1633.74 1488.93 1633.83 1492.72 1633.57 1496.51 1632.54 1503.33 1630.46 1512.42 1627.24 1529.85 1626.51 1532.88 1625.64 1535.92 1623.06 1535.92 1622.19 1532.88 1621.46 1529.85 1618.24 1512.42 1616.16 1503.33 1615.13 1496.51 1614.87 1492.72 1614.96 1488.93 1615.28 1484.38 1615.51 1482.11 1615.97 1479.83 1616.89 1476.80 1618.79 1471.50 1620.10 1468.47 1621.99 1464.68ZM1686.21 1449.57 1686.43 1451.82 1686.78 1454.07 1687.55 1457.82 1687.99 1459.32 1688.86 1461.57 1691.53 1467.57 1694.05 1474.32 1694.99 1477.32 1695.47 1479.57 1695.97 1483.32 1696.27 1486.32 1696.38 1488.57 1696.20 1494.57 1695.83 1499.07 1695.56 1500.57 1694.88 1502.82 1692.93 1508.07 1691.61 1512.58 1689.42 1520.83 1687.48 1529.08 1683.84 1529.08 1681.90 1520.83 1679.71 1512.58 1678.39 1508.07 1676.44 1502.82 1675.76 1500.57 1675.49 1499.07 1675.12 1494.57 1674.94 1488.57 1675.05 1486.32 1675.35 1483.32 1675.85 1479.57 1676.33 1477.32 1677.27 1474.32 1679.79 1467.57 1682.46 1461.57 1683.33 1459.32 1683.77 1457.82 1684.54 1454.07 1684.89 1451.82 1685.11 1449.57ZM1747.52 1443.69 1748.24 1448.21 1748.96 1451.97 1751.35 1461.77 1753.19 1470.81 1754.64 1480.60 1754.94 1483.62 1755.02 1485.88 1754.98 1499.44 1754.71 1503.21 1754.03 1509.23 1753.22 1513.76 1751.42 1521.29 1749.59 1527.32 1749.00 1529.58 1748.20 1534.85 1747.90 1538.62 1746.04 1538.62 1745.74 1534.85 1744.94 1529.58 1744.35 1527.32 1742.52 1521.29 1740.72 1513.76 1739.91 1509.23 1739.23 1503.21 1738.96 1499.44 1738.92 1485.88 1739.00 1483.62 1739.30 1480.60 1740.75 1470.81 1742.59 1461.77 1744.98 1451.97 1745.70 1448.21 1746.42 1443.69Z" fill="#C2EEEF" stroke="#1E1E1E" stroke-width="2.25" stroke-linejoin="round"/>
<path d="M1304.00 1475.80 1365.31 1489.30 1426.62 1493.30 1487.93 1502.10 1549.24 1505.20 1610.55 1514.00 1671.86 1508.40 1733.17 1511.60" fill="none" stroke="#F26A62" stroke-opacity="0.85" stroke-width="4.3" stroke-linejoin="round"/>
<path d="M1304.00 1460.70 1365.31 1471.80 1426.62 1476.60 1487.93 1482.20 1549.24 1488.50 1610.55 1497.30 1671.86 1494.10 1733.17 1496.50" fill="none" stroke="#1FB9BE" stroke-opacity="0.85" stroke-width="4.3" stroke-linejoin="round"/></svg></body></html>
